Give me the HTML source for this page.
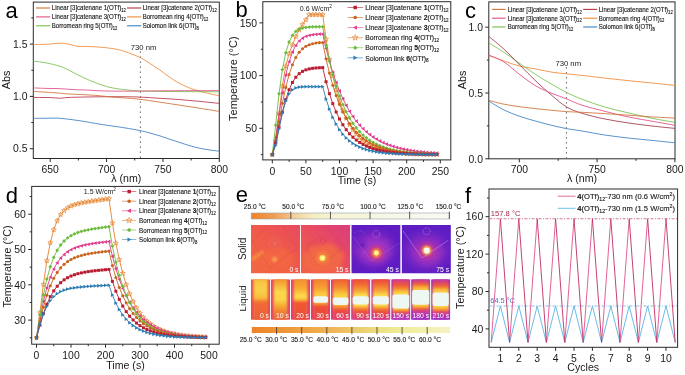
<!DOCTYPE html><html><head><meta charset="utf-8"><style>html,body{margin:0;padding:0;background:#fff;}svg{display:block;will-change:transform;} text{font-family:"Liberation Sans", sans-serif;}</style></head><body><svg width="685" height="375" viewBox="0 0 685 375"><rect x="33.30" y="2.10" width="186.00" height="156.40" fill="none" stroke="#2a2a2a" stroke-width="1"/>
<path d="M50.21,158.50V162.00M106.57,158.50V162.00M162.94,158.50V162.00M219.30,158.50V162.00M78.39,158.50V160.50M134.75,158.50V160.50M191.12,158.50V160.50M33.30,148.70H29.80M33.30,96.40H29.80M33.30,44.10H29.80M33.30,122.55H31.30M33.30,70.25H31.30M33.30,17.95H31.30" stroke="#2a2a2a" stroke-width="1" fill="none"/>
<text x="50.21" y="172.50" font-size="10.4" text-anchor="middle" fill="#1a1a1a" >650</text>
<text x="106.57" y="172.50" font-size="10.4" text-anchor="middle" fill="#1a1a1a" >700</text>
<text x="162.94" y="172.50" font-size="10.4" text-anchor="middle" fill="#1a1a1a" >750</text>
<text x="219.30" y="172.50" font-size="10.4" text-anchor="middle" fill="#1a1a1a" >800</text>
<text x="27.50" y="152.40" font-size="10.4" text-anchor="end" fill="#1a1a1a" >0.5</text>
<text x="27.50" y="100.10" font-size="10.4" text-anchor="end" fill="#1a1a1a" >1.0</text>
<text x="27.50" y="47.80" font-size="10.4" text-anchor="end" fill="#1a1a1a" >1.5</text>
<text x="126.30" y="182.40" font-size="10.6" text-anchor="middle" fill="#1a1a1a" >λ (nm)</text>
<text x="0" y="0" font-size="10.8" text-anchor="middle" fill="#1a1a1a" transform="translate(9.70,80.00) rotate(-90)">Abs</text>
<text x="5.50" y="17.50" font-size="22" text-anchor="start" fill="#000" >a</text>
<line x1="140.4" y1="51.5" x2="140.4" y2="158" stroke="#333" stroke-width="0.9" stroke-dasharray="1.3,3.7"/>
<text x="130.80" y="49.50" font-size="7.7" text-anchor="start" fill="#1a1a1a" >730 nm</text>
<path d="M33.30,44.50 C35.75,44.45 43.38,44.42 48.00,44.20 C52.62,43.98 57.33,43.15 61.00,43.20 C64.67,43.25 67.17,43.98 70.00,44.50 C72.83,45.02 74.67,45.95 78.00,46.30 C81.33,46.65 86.00,46.43 90.00,46.60 C94.00,46.77 97.83,46.90 102.00,47.30 C106.17,47.70 111.17,48.30 115.00,49.00 C118.83,49.70 122.17,50.63 125.00,51.50 C127.83,52.37 129.40,53.17 132.00,54.20 C134.60,55.23 137.60,56.15 140.60,57.70 C143.60,59.25 146.83,61.48 150.00,63.50 C153.17,65.52 156.60,67.72 159.60,69.80 C162.60,71.88 165.10,73.97 168.00,76.00 C170.90,78.03 174.00,80.25 177.00,82.00 C180.00,83.75 183.17,85.23 186.00,86.50 C188.83,87.77 190.67,88.55 194.00,89.60 C197.33,90.65 201.78,91.77 206.00,92.80 C210.22,93.83 217.08,95.30 219.30,95.80" stroke="#ee8a38" stroke-width="0.85" fill="none"/>
<path d="M33.30,61.10 C34.75,61.28 39.13,61.75 42.00,62.20 C44.87,62.65 47.03,62.95 50.50,63.80 C53.97,64.65 58.42,65.55 62.80,67.30 C67.18,69.05 72.13,72.03 76.80,74.30 C81.47,76.57 85.83,78.87 90.80,80.90 C95.77,82.93 101.63,85.12 106.60,86.50 C111.57,87.88 115.37,88.47 120.60,89.20 C125.83,89.93 132.60,90.55 138.00,90.90 C143.40,91.25 146.00,91.18 153.00,91.30 C160.00,91.42 168.95,91.52 180.00,91.60 C191.05,91.68 212.75,91.77 219.30,91.80" stroke="#74c04c" stroke-width="0.85" fill="none"/>
<path d="M33.30,87.90 C35.42,87.98 41.67,88.28 46.00,88.40 C50.33,88.52 54.97,88.42 59.30,88.60 C63.63,88.78 67.63,89.27 72.00,89.50 C76.37,89.73 80.83,89.78 85.50,90.00 C90.17,90.22 95.62,90.62 100.00,90.80 C104.38,90.98 107.63,91.03 111.80,91.10 C115.97,91.17 120.63,91.20 125.00,91.20 C129.37,91.20 133.33,91.15 138.00,91.10 C142.67,91.05 146.00,90.97 153.00,90.90 C160.00,90.83 168.95,90.75 180.00,90.70 C191.05,90.65 212.75,90.62 219.30,90.60" stroke="#e04c86" stroke-width="0.85" fill="none"/>
<path d="M33.30,97.40 C34.75,97.42 39.13,97.48 42.00,97.50 C44.87,97.52 47.62,97.38 50.50,97.50 C53.38,97.62 56.38,98.20 59.30,98.20 C62.22,98.20 63.63,97.70 68.00,97.50 C72.37,97.30 78.20,97.13 85.50,97.00 C92.80,96.87 103.05,96.70 111.80,96.70 C120.55,96.70 129.97,96.73 138.00,97.00 C146.03,97.27 153.00,97.87 160.00,98.30 C167.00,98.73 173.33,99.08 180.00,99.60 C186.67,100.12 193.45,100.77 200.00,101.40 C206.55,102.03 216.08,103.07 219.30,103.40" stroke="#b83246" stroke-width="0.85" fill="none"/>
<path d="M33.30,91.40 C36.75,91.62 48.22,92.28 54.00,92.70 C59.78,93.12 61.28,93.47 68.00,93.90 C74.72,94.33 87.00,94.78 94.30,95.30 C101.60,95.82 104.52,96.37 111.80,97.00 C119.08,97.63 129.97,98.23 138.00,99.10 C146.03,99.97 153.00,101.18 160.00,102.20 C167.00,103.22 173.33,104.18 180.00,105.20 C186.67,106.22 193.45,107.27 200.00,108.30 C206.55,109.33 216.08,110.88 219.30,111.40" stroke="#cf7038" stroke-width="0.85" fill="none"/>
<path d="M33.30,118.40 C36.08,118.37 45.38,118.20 50.00,118.20 C54.62,118.20 56.00,117.97 61.00,118.40 C66.00,118.83 73.50,119.83 80.00,120.80 C86.50,121.77 94.17,123.27 100.00,124.20 C105.83,125.13 110.83,125.78 115.00,126.40 C119.17,127.02 120.83,127.20 125.00,127.90 C129.17,128.60 135.83,129.75 140.00,130.60 C144.17,131.45 146.67,132.12 150.00,133.00 C153.33,133.88 156.67,134.85 160.00,135.90 C163.33,136.95 166.67,138.18 170.00,139.30 C173.33,140.42 176.67,141.52 180.00,142.60 C183.33,143.68 186.67,144.85 190.00,145.80 C193.33,146.75 196.67,147.60 200.00,148.30 C203.33,149.00 206.78,149.52 210.00,150.00 C213.22,150.48 217.75,151.00 219.30,151.20" stroke="#3a80c0" stroke-width="0.85" fill="none"/>
<line x1="36" y1="8.0" x2="50.2" y2="8.0" stroke="#cf7038" stroke-width="1.1"/>
<text x="0" y="0" font-size="6.6" text-anchor="start" fill="#1a1a1a" stroke="#1a1a1a" stroke-width="0.14" transform="translate(51.80,10.30) scale(0.92,1)">Linear [3]catenane 1(OTf)<tspan font-size="68%" dy="1.8">12</tspan></text>
<line x1="36" y1="16.9" x2="50.2" y2="16.9" stroke="#e04c86" stroke-width="1.1"/>
<text x="0" y="0" font-size="6.6" text-anchor="start" fill="#1a1a1a" stroke="#1a1a1a" stroke-width="0.14" transform="translate(51.80,19.20) scale(0.92,1)">Linear [3]catenane 3(OTf)<tspan font-size="68%" dy="1.8">12</tspan></text>
<line x1="36" y1="25.8" x2="50.2" y2="25.8" stroke="#74c04c" stroke-width="1.1"/>
<text x="0" y="0" font-size="6.6" text-anchor="start" fill="#1a1a1a" stroke="#1a1a1a" stroke-width="0.14" transform="translate(51.80,28.10) scale(0.92,1)">Borromean ring 5(OTf)<tspan font-size="68%" dy="1.8">12</tspan></text>
<line x1="127" y1="8.0" x2="141.2" y2="8.0" stroke="#b83246" stroke-width="1.1"/>
<text x="0" y="0" font-size="6.6" text-anchor="start" fill="#1a1a1a" stroke="#1a1a1a" stroke-width="0.14" transform="translate(142.70,10.30) scale(0.92,1)">Linear [3]catenane 2(OTf)<tspan font-size="68%" dy="1.8">12</tspan></text>
<line x1="127" y1="16.9" x2="141.2" y2="16.9" stroke="#ee8a38" stroke-width="1.1"/>
<text x="0" y="0" font-size="6.6" text-anchor="start" fill="#1a1a1a" stroke="#1a1a1a" stroke-width="0.14" transform="translate(142.70,19.20) scale(0.92,1)">Borromean ring 4(OTf)<tspan font-size="68%" dy="1.8">12</tspan></text>
<line x1="127" y1="25.8" x2="141.2" y2="25.8" stroke="#3a80c0" stroke-width="1.1"/>
<text x="0" y="0" font-size="6.6" text-anchor="start" fill="#1a1a1a" stroke="#1a1a1a" stroke-width="0.14" transform="translate(142.70,28.10) scale(0.92,1)">Solomon link 6(OTf)<tspan font-size="68%" dy="1.8">8</tspan></text>
<rect x="262.80" y="1.70" width="188.00" height="158.20" fill="none" stroke="#2a2a2a" stroke-width="1"/>
<path d="M272.30,159.90V163.40M305.90,159.90V163.40M339.50,159.90V163.40M373.10,159.90V163.40M406.70,159.90V163.40M440.30,159.90V163.40M289.10,159.90V161.90M322.70,159.90V161.90M356.30,159.90V161.90M389.90,159.90V161.90M423.50,159.90V161.90M262.80,128.30H259.30M262.80,75.60H259.30M262.80,22.90H259.30M262.80,154.65H260.80M262.80,101.95H260.80M262.80,49.25H260.80" stroke="#2a2a2a" stroke-width="1" fill="none"/>
<text x="272.30" y="174.50" font-size="10.4" text-anchor="middle" fill="#1a1a1a" >0</text>
<text x="305.90" y="174.50" font-size="10.4" text-anchor="middle" fill="#1a1a1a" >50</text>
<text x="339.50" y="174.50" font-size="10.4" text-anchor="middle" fill="#1a1a1a" >100</text>
<text x="373.10" y="174.50" font-size="10.4" text-anchor="middle" fill="#1a1a1a" >150</text>
<text x="406.70" y="174.50" font-size="10.4" text-anchor="middle" fill="#1a1a1a" >200</text>
<text x="440.30" y="174.50" font-size="10.4" text-anchor="middle" fill="#1a1a1a" >250</text>
<text x="257.00" y="132.00" font-size="10.4" text-anchor="end" fill="#1a1a1a" >50</text>
<text x="257.00" y="79.30" font-size="10.4" text-anchor="end" fill="#1a1a1a" >100</text>
<text x="257.00" y="26.60" font-size="10.4" text-anchor="end" fill="#1a1a1a" >150</text>
<text x="357.00" y="184.00" font-size="10.6" text-anchor="middle" fill="#1a1a1a" >Time (s)</text>
<text x="0" y="0" font-size="11.0" text-anchor="middle" fill="#1a1a1a" transform="translate(236.90,78.70) rotate(-90)">Temperature (°C)</text>
<text x="235.50" y="16.70" font-size="22" text-anchor="start" fill="#000" >b</text>
<text x="299.80" y="11.10" font-size="7.0" text-anchor="start" fill="#1a1a1a" >0.6 W/cm<tspan font-size="70%" dy="-3">2</tspan></text>
<path d="M272.30,154.65 L275.66,140.95 L279.02,113.54 L282.38,86.14 L285.74,66.11 L289.10,53.47 L292.46,45.03 L295.82,36.60 L299.18,29.75 L302.54,24.48 L305.90,19.74 L309.26,14.68 L312.62,14.68 L315.98,14.68 L319.34,14.68 L322.70,14.68 L326.06,39.17 L329.42,59.37 L332.78,76.04 L336.14,89.79 L339.50,101.14 L342.86,110.50 L346.22,118.22 L349.58,124.60 L352.94,129.85 L356.30,134.19 L359.66,137.77 L363.02,140.72 L366.38,143.16 L369.74,145.17 L373.10,146.83 L376.46,148.20 L379.82,149.33 L383.18,150.26 L386.54,151.03 L389.90,151.66 L393.26,152.18 L396.62,152.61 L399.98,152.97 L403.34,153.26 L406.70,153.51 L410.06,153.71 L413.42,153.87 L416.78,154.01 L420.14,154.12 L423.50,154.21 L426.86,154.29 L430.22,154.35 L433.58,154.40 L436.94,154.45" stroke="#e6822c" stroke-width="0.9" fill="none"/>
<path d="M272.30,152.05 L272.95,153.76 L274.77,153.85 L273.35,154.99 L273.83,156.75 L272.30,155.75 L270.77,156.75 L271.25,154.99 L269.83,153.85 L271.65,153.76Z" fill="none" stroke="#e6822c" stroke-width="0.7"/><path d="M275.66,138.35 L276.31,140.06 L278.13,140.14 L276.71,141.29 L277.19,143.05 L275.66,142.05 L274.13,143.05 L274.61,141.29 L273.19,140.14 L275.01,140.06Z" fill="none" stroke="#e6822c" stroke-width="0.7"/><path d="M279.02,110.94 L279.67,112.65 L281.49,112.74 L280.07,113.88 L280.55,115.65 L279.02,114.64 L277.49,115.65 L277.97,113.88 L276.55,112.74 L278.37,112.65Z" fill="none" stroke="#e6822c" stroke-width="0.7"/><path d="M282.38,83.54 L283.03,85.25 L284.85,85.34 L283.43,86.48 L283.91,88.24 L282.38,87.24 L280.85,88.24 L281.33,86.48 L279.91,85.34 L281.73,85.25Z" fill="none" stroke="#e6822c" stroke-width="0.7"/><path d="M285.74,63.51 L286.39,65.22 L288.21,65.31 L286.79,66.45 L287.27,68.22 L285.74,67.21 L284.21,68.22 L284.69,66.45 L283.27,65.31 L285.09,65.22Z" fill="none" stroke="#e6822c" stroke-width="0.7"/><path d="M289.10,50.87 L289.75,52.58 L291.57,52.66 L290.15,53.81 L290.63,55.57 L289.10,54.57 L287.57,55.57 L288.05,53.81 L286.63,52.66 L288.45,52.58Z" fill="none" stroke="#e6822c" stroke-width="0.7"/><path d="M292.46,42.43 L293.11,44.14 L294.93,44.23 L293.51,45.37 L293.99,47.14 L292.46,46.13 L290.93,47.14 L291.41,45.37 L289.99,44.23 L291.81,44.14Z" fill="none" stroke="#e6822c" stroke-width="0.7"/><path d="M295.82,34.00 L296.47,35.71 L298.29,35.80 L296.87,36.94 L297.35,38.71 L295.82,37.70 L294.29,38.71 L294.77,36.94 L293.35,35.80 L295.17,35.71Z" fill="none" stroke="#e6822c" stroke-width="0.7"/><path d="M299.18,27.15 L299.83,28.86 L301.65,28.95 L300.23,30.09 L300.71,31.85 L299.18,30.85 L297.65,31.85 L298.13,30.09 L296.71,28.95 L298.53,28.86Z" fill="none" stroke="#e6822c" stroke-width="0.7"/><path d="M302.54,21.88 L303.19,23.59 L305.01,23.68 L303.59,24.82 L304.07,26.58 L302.54,25.58 L301.01,26.58 L301.49,24.82 L300.07,23.68 L301.89,23.59Z" fill="none" stroke="#e6822c" stroke-width="0.7"/><path d="M305.90,17.14 L306.55,18.85 L308.37,18.93 L306.95,20.08 L307.43,21.84 L305.90,20.84 L304.37,21.84 L304.85,20.08 L303.43,18.93 L305.25,18.85Z" fill="none" stroke="#e6822c" stroke-width="0.7"/><path d="M309.26,12.08 L309.91,13.79 L311.73,13.88 L310.31,15.02 L310.79,16.78 L309.26,15.78 L307.73,16.78 L308.21,15.02 L306.79,13.88 L308.61,13.79Z" fill="none" stroke="#e6822c" stroke-width="0.7"/><path d="M312.62,12.08 L313.27,13.79 L315.09,13.88 L313.67,15.02 L314.15,16.78 L312.62,15.78 L311.09,16.78 L311.57,15.02 L310.15,13.88 L311.97,13.79Z" fill="none" stroke="#e6822c" stroke-width="0.7"/><path d="M315.98,12.08 L316.63,13.79 L318.45,13.88 L317.03,15.02 L317.51,16.78 L315.98,15.78 L314.45,16.78 L314.93,15.02 L313.51,13.88 L315.33,13.79Z" fill="none" stroke="#e6822c" stroke-width="0.7"/><path d="M319.34,12.08 L319.99,13.79 L321.81,13.88 L320.39,15.02 L320.87,16.78 L319.34,15.78 L317.81,16.78 L318.29,15.02 L316.87,13.88 L318.69,13.79Z" fill="none" stroke="#e6822c" stroke-width="0.7"/><path d="M322.70,12.08 L323.35,13.79 L325.17,13.88 L323.75,15.02 L324.23,16.78 L322.70,15.78 L321.17,16.78 L321.65,15.02 L320.23,13.88 L322.05,13.79Z" fill="none" stroke="#e6822c" stroke-width="0.7"/><path d="M326.06,36.57 L326.71,38.28 L328.53,38.36 L327.11,39.51 L327.59,41.27 L326.06,40.27 L324.53,41.27 L325.01,39.51 L323.59,38.36 L325.41,38.28Z" fill="none" stroke="#e6822c" stroke-width="0.7"/><path d="M329.42,56.77 L330.07,58.48 L331.89,58.57 L330.47,59.71 L330.95,61.47 L329.42,60.47 L327.89,61.47 L328.37,59.71 L326.95,58.57 L328.77,58.48Z" fill="none" stroke="#e6822c" stroke-width="0.7"/><path d="M332.78,73.44 L333.43,75.15 L335.25,75.24 L333.83,76.38 L334.31,78.14 L332.78,77.14 L331.25,78.14 L331.73,76.38 L330.31,75.24 L332.13,75.15Z" fill="none" stroke="#e6822c" stroke-width="0.7"/><path d="M336.14,87.19 L336.79,88.90 L338.61,88.99 L337.19,90.13 L337.67,91.90 L336.14,90.89 L334.61,91.90 L335.09,90.13 L333.67,88.99 L335.49,88.90Z" fill="none" stroke="#e6822c" stroke-width="0.7"/><path d="M339.50,98.54 L340.15,100.25 L341.97,100.33 L340.55,101.48 L341.03,103.24 L339.50,102.24 L337.97,103.24 L338.45,101.48 L337.03,100.33 L338.85,100.25Z" fill="none" stroke="#e6822c" stroke-width="0.7"/><path d="M342.86,107.90 L343.51,109.61 L345.33,109.70 L343.91,110.84 L344.39,112.60 L342.86,111.60 L341.33,112.60 L341.81,110.84 L340.39,109.70 L342.21,109.61Z" fill="none" stroke="#e6822c" stroke-width="0.7"/><path d="M346.22,115.62 L346.87,117.33 L348.69,117.42 L347.27,118.56 L347.75,120.33 L346.22,119.32 L344.69,120.33 L345.17,118.56 L343.75,117.42 L345.57,117.33Z" fill="none" stroke="#e6822c" stroke-width="0.7"/><path d="M349.58,122.00 L350.23,123.71 L352.05,123.79 L350.63,124.94 L351.11,126.70 L349.58,125.70 L348.05,126.70 L348.53,124.94 L347.11,123.79 L348.93,123.71Z" fill="none" stroke="#e6822c" stroke-width="0.7"/><path d="M352.94,127.25 L353.59,128.96 L355.41,129.05 L353.99,130.19 L354.47,131.96 L352.94,130.95 L351.41,131.96 L351.89,130.19 L350.47,129.05 L352.29,128.96Z" fill="none" stroke="#e6822c" stroke-width="0.7"/><path d="M356.30,131.59 L356.95,133.30 L358.77,133.39 L357.35,134.53 L357.83,136.30 L356.30,135.29 L354.77,136.30 L355.25,134.53 L353.83,133.39 L355.65,133.30Z" fill="none" stroke="#e6822c" stroke-width="0.7"/><path d="M359.66,135.17 L360.31,136.88 L362.13,136.97 L360.71,138.11 L361.19,139.87 L359.66,138.87 L358.13,139.87 L358.61,138.11 L357.19,136.97 L359.01,136.88Z" fill="none" stroke="#e6822c" stroke-width="0.7"/><path d="M363.02,138.12 L363.67,139.83 L365.49,139.92 L364.07,141.06 L364.55,142.83 L363.02,141.82 L361.49,142.83 L361.97,141.06 L360.55,139.92 L362.37,139.83Z" fill="none" stroke="#e6822c" stroke-width="0.7"/><path d="M366.38,140.56 L367.03,142.27 L368.85,142.36 L367.43,143.50 L367.91,145.26 L366.38,144.26 L364.85,145.26 L365.33,143.50 L363.91,142.36 L365.73,142.27Z" fill="none" stroke="#e6822c" stroke-width="0.7"/><path d="M369.74,142.57 L370.39,144.28 L372.21,144.37 L370.79,145.51 L371.27,147.27 L369.74,146.27 L368.21,147.27 L368.69,145.51 L367.27,144.37 L369.09,144.28Z" fill="none" stroke="#e6822c" stroke-width="0.7"/><path d="M373.10,144.23 L373.75,145.94 L375.57,146.03 L374.15,147.17 L374.63,148.93 L373.10,147.93 L371.57,148.93 L372.05,147.17 L370.63,146.03 L372.45,145.94Z" fill="none" stroke="#e6822c" stroke-width="0.7"/><path d="M376.46,145.60 L377.11,147.31 L378.93,147.39 L377.51,148.54 L377.99,150.30 L376.46,149.30 L374.93,150.30 L375.41,148.54 L373.99,147.39 L375.81,147.31Z" fill="none" stroke="#e6822c" stroke-width="0.7"/><path d="M379.82,146.73 L380.47,148.44 L382.29,148.52 L380.87,149.67 L381.35,151.43 L379.82,150.43 L378.29,151.43 L378.77,149.67 L377.35,148.52 L379.17,148.44Z" fill="none" stroke="#e6822c" stroke-width="0.7"/><path d="M383.18,147.66 L383.83,149.37 L385.65,149.45 L384.23,150.60 L384.71,152.36 L383.18,151.36 L381.65,152.36 L382.13,150.60 L380.71,149.45 L382.53,149.37Z" fill="none" stroke="#e6822c" stroke-width="0.7"/><path d="M386.54,148.43 L387.19,150.14 L389.01,150.22 L387.59,151.37 L388.07,153.13 L386.54,152.13 L385.01,153.13 L385.49,151.37 L384.07,150.22 L385.89,150.14Z" fill="none" stroke="#e6822c" stroke-width="0.7"/><path d="M389.90,149.06 L390.55,150.77 L392.37,150.86 L390.95,152.00 L391.43,153.76 L389.90,152.76 L388.37,153.76 L388.85,152.00 L387.43,150.86 L389.25,150.77Z" fill="none" stroke="#e6822c" stroke-width="0.7"/><path d="M393.26,149.58 L393.91,151.29 L395.73,151.38 L394.31,152.52 L394.79,154.29 L393.26,153.28 L391.73,154.29 L392.21,152.52 L390.79,151.38 L392.61,151.29Z" fill="none" stroke="#e6822c" stroke-width="0.7"/><path d="M396.62,150.01 L397.27,151.72 L399.09,151.81 L397.67,152.95 L398.15,154.72 L396.62,153.71 L395.09,154.72 L395.57,152.95 L394.15,151.81 L395.97,151.72Z" fill="none" stroke="#e6822c" stroke-width="0.7"/><path d="M399.98,150.37 L400.63,152.08 L402.45,152.17 L401.03,153.31 L401.51,155.07 L399.98,154.07 L398.45,155.07 L398.93,153.31 L397.51,152.17 L399.33,152.08Z" fill="none" stroke="#e6822c" stroke-width="0.7"/><path d="M403.34,150.66 L403.99,152.37 L405.81,152.46 L404.39,153.60 L404.87,155.37 L403.34,154.36 L401.81,155.37 L402.29,153.60 L400.87,152.46 L402.69,152.37Z" fill="none" stroke="#e6822c" stroke-width="0.7"/><path d="M406.70,150.91 L407.35,152.62 L409.17,152.70 L407.75,153.85 L408.23,155.61 L406.70,154.61 L405.17,155.61 L405.65,153.85 L404.23,152.70 L406.05,152.62Z" fill="none" stroke="#e6822c" stroke-width="0.7"/><path d="M410.06,151.11 L410.71,152.82 L412.53,152.90 L411.11,154.05 L411.59,155.81 L410.06,154.81 L408.53,155.81 L409.01,154.05 L407.59,152.90 L409.41,152.82Z" fill="none" stroke="#e6822c" stroke-width="0.7"/><path d="M413.42,151.27 L414.07,152.98 L415.89,153.07 L414.47,154.21 L414.95,155.98 L413.42,154.97 L411.89,155.98 L412.37,154.21 L410.95,153.07 L412.77,152.98Z" fill="none" stroke="#e6822c" stroke-width="0.7"/><path d="M416.78,151.41 L417.43,153.12 L419.25,153.20 L417.83,154.35 L418.31,156.11 L416.78,155.11 L415.25,156.11 L415.73,154.35 L414.31,153.20 L416.13,153.12Z" fill="none" stroke="#e6822c" stroke-width="0.7"/><path d="M420.14,151.52 L420.79,153.23 L422.61,153.32 L421.19,154.46 L421.67,156.22 L420.14,155.22 L418.61,156.22 L419.09,154.46 L417.67,153.32 L419.49,153.23Z" fill="none" stroke="#e6822c" stroke-width="0.7"/><path d="M423.50,151.61 L424.15,153.32 L425.97,153.41 L424.55,154.55 L425.03,156.32 L423.50,155.31 L421.97,156.32 L422.45,154.55 L421.03,153.41 L422.85,153.32Z" fill="none" stroke="#e6822c" stroke-width="0.7"/><path d="M426.86,151.69 L427.51,153.40 L429.33,153.49 L427.91,154.63 L428.39,156.39 L426.86,155.39 L425.33,156.39 L425.81,154.63 L424.39,153.49 L426.21,153.40Z" fill="none" stroke="#e6822c" stroke-width="0.7"/><path d="M430.22,151.75 L430.87,153.46 L432.69,153.55 L431.27,154.69 L431.75,156.46 L430.22,155.45 L428.69,156.46 L429.17,154.69 L427.75,153.55 L429.57,153.46Z" fill="none" stroke="#e6822c" stroke-width="0.7"/><path d="M433.58,151.80 L434.23,153.51 L436.05,153.60 L434.63,154.74 L435.11,156.51 L433.58,155.50 L432.05,156.51 L432.53,154.74 L431.11,153.60 L432.93,153.51Z" fill="none" stroke="#e6822c" stroke-width="0.7"/><path d="M436.94,151.85 L437.59,153.56 L439.41,153.64 L437.99,154.79 L438.47,156.55 L436.94,155.55 L435.41,156.55 L435.89,154.79 L434.47,153.64 L436.29,153.56Z" fill="none" stroke="#e6822c" stroke-width="0.7"/>
<path d="M272.30,154.65 L275.66,137.38 L279.02,114.25 L282.38,92.76 L285.74,75.11 L289.10,61.68 L292.46,52.01 L295.82,45.36 L299.18,40.95 L302.54,38.13 L305.90,36.37 L309.26,35.30 L312.62,34.67 L315.98,34.31 L319.34,34.11 L322.70,33.99 L326.06,48.40 L329.42,61.18 L332.78,72.43 L336.14,82.32 L339.50,91.02 L342.86,98.68 L346.22,105.42 L349.58,111.34 L352.94,116.55 L356.30,121.14 L359.66,125.17 L363.02,128.72 L366.38,131.84 L369.74,134.58 L373.10,137.00 L376.46,139.12 L379.82,140.99 L383.18,142.63 L386.54,144.08 L389.90,145.35 L393.26,146.47 L396.62,147.45 L399.98,148.32 L403.34,149.08 L406.70,149.75 L410.06,150.34 L413.42,150.86 L416.78,151.32 L420.14,151.72 L423.50,152.07 L426.86,152.38 L430.22,152.65 L433.58,152.89 L436.94,153.10" stroke="#e03c8c" stroke-width="0.9" fill="none"/>
<path d="M270.40,154.65L273.82,152.75L273.82,156.55Z" fill="#e03c8c"/><path d="M273.76,137.38L277.18,135.48L277.18,139.28Z" fill="#e03c8c"/><path d="M277.12,114.25L280.54,112.35L280.54,116.15Z" fill="#e03c8c"/><path d="M280.48,92.76L283.90,90.86L283.90,94.66Z" fill="#e03c8c"/><path d="M283.84,75.11L287.26,73.21L287.26,77.01Z" fill="#e03c8c"/><path d="M287.20,61.68L290.62,59.78L290.62,63.58Z" fill="#e03c8c"/><path d="M290.56,52.01L293.98,50.11L293.98,53.91Z" fill="#e03c8c"/><path d="M293.92,45.36L297.34,43.46L297.34,47.26Z" fill="#e03c8c"/><path d="M297.28,40.95L300.70,39.05L300.70,42.85Z" fill="#e03c8c"/><path d="M300.64,38.13L304.06,36.23L304.06,40.03Z" fill="#e03c8c"/><path d="M304.00,36.37L307.42,34.47L307.42,38.27Z" fill="#e03c8c"/><path d="M307.36,35.30L310.78,33.40L310.78,37.20Z" fill="#e03c8c"/><path d="M310.72,34.67L314.14,32.77L314.14,36.57Z" fill="#e03c8c"/><path d="M314.08,34.31L317.50,32.41L317.50,36.21Z" fill="#e03c8c"/><path d="M317.44,34.11L320.86,32.21L320.86,36.01Z" fill="#e03c8c"/><path d="M320.80,33.99L324.22,32.09L324.22,35.89Z" fill="#e03c8c"/><path d="M324.16,48.40L327.58,46.50L327.58,50.30Z" fill="#e03c8c"/><path d="M327.52,61.18L330.94,59.28L330.94,63.08Z" fill="#e03c8c"/><path d="M330.88,72.43L334.30,70.53L334.30,74.33Z" fill="#e03c8c"/><path d="M334.24,82.32L337.66,80.42L337.66,84.22Z" fill="#e03c8c"/><path d="M337.60,91.02L341.02,89.12L341.02,92.92Z" fill="#e03c8c"/><path d="M340.96,98.68L344.38,96.78L344.38,100.58Z" fill="#e03c8c"/><path d="M344.32,105.42L347.74,103.52L347.74,107.32Z" fill="#e03c8c"/><path d="M347.68,111.34L351.10,109.44L351.10,113.24Z" fill="#e03c8c"/><path d="M351.04,116.55L354.46,114.65L354.46,118.45Z" fill="#e03c8c"/><path d="M354.40,121.14L357.82,119.24L357.82,123.04Z" fill="#e03c8c"/><path d="M357.76,125.17L361.18,123.27L361.18,127.07Z" fill="#e03c8c"/><path d="M361.12,128.72L364.54,126.82L364.54,130.62Z" fill="#e03c8c"/><path d="M364.48,131.84L367.90,129.94L367.90,133.74Z" fill="#e03c8c"/><path d="M367.84,134.58L371.26,132.68L371.26,136.48Z" fill="#e03c8c"/><path d="M371.20,137.00L374.62,135.10L374.62,138.90Z" fill="#e03c8c"/><path d="M374.56,139.12L377.98,137.22L377.98,141.02Z" fill="#e03c8c"/><path d="M377.92,140.99L381.34,139.09L381.34,142.89Z" fill="#e03c8c"/><path d="M381.28,142.63L384.70,140.73L384.70,144.53Z" fill="#e03c8c"/><path d="M384.64,144.08L388.06,142.18L388.06,145.98Z" fill="#e03c8c"/><path d="M388.00,145.35L391.42,143.45L391.42,147.25Z" fill="#e03c8c"/><path d="M391.36,146.47L394.78,144.57L394.78,148.37Z" fill="#e03c8c"/><path d="M394.72,147.45L398.14,145.55L398.14,149.35Z" fill="#e03c8c"/><path d="M398.08,148.32L401.50,146.42L401.50,150.22Z" fill="#e03c8c"/><path d="M401.44,149.08L404.86,147.18L404.86,150.98Z" fill="#e03c8c"/><path d="M404.80,149.75L408.22,147.85L408.22,151.65Z" fill="#e03c8c"/><path d="M408.16,150.34L411.58,148.44L411.58,152.24Z" fill="#e03c8c"/><path d="M411.52,150.86L414.94,148.96L414.94,152.76Z" fill="#e03c8c"/><path d="M414.88,151.32L418.30,149.42L418.30,153.22Z" fill="#e03c8c"/><path d="M418.24,151.72L421.66,149.82L421.66,153.62Z" fill="#e03c8c"/><path d="M421.60,152.07L425.02,150.17L425.02,153.97Z" fill="#e03c8c"/><path d="M424.96,152.38L428.38,150.48L428.38,154.28Z" fill="#e03c8c"/><path d="M428.32,152.65L431.74,150.75L431.74,154.55Z" fill="#e03c8c"/><path d="M431.68,152.89L435.10,150.99L435.10,154.79Z" fill="#e03c8c"/><path d="M435.04,153.10L438.46,151.20L438.46,155.00Z" fill="#e03c8c"/>
<path d="M272.30,154.65 L275.66,125.13 L279.02,93.78 L282.38,69.55 L285.74,52.79 L289.10,41.98 L292.46,35.35 L295.82,31.46 L299.18,29.25 L302.54,28.03 L305.90,27.38 L309.26,27.04 L312.62,26.86 L315.98,26.78 L319.34,26.73 L322.70,26.71 L326.06,45.20 L329.42,61.04 L332.78,74.58 L336.14,86.16 L339.50,96.07 L342.86,104.54 L346.22,111.79 L349.58,117.99 L352.94,123.29 L356.30,127.83 L359.66,131.71 L363.02,135.03 L366.38,137.87 L369.74,140.29 L373.10,142.37 L376.46,144.15 L379.82,145.67 L383.18,146.97 L386.54,148.08 L389.90,149.03 L393.26,149.84 L396.62,150.54 L399.98,151.13 L403.34,151.64 L406.70,152.08 L410.06,152.45 L413.42,152.77 L416.78,153.04 L420.14,153.27 L423.50,153.47 L426.86,153.64 L430.22,153.79 L433.58,153.91 L436.94,154.02" stroke="#6cbc3c" stroke-width="0.9" fill="none"/>
<path d="M272.30,152.75L274.20,154.65L272.30,156.55L270.40,154.65Z" fill="#6cbc3c"/><path d="M275.66,123.23L277.56,125.13L275.66,127.03L273.76,125.13Z" fill="#6cbc3c"/><path d="M279.02,91.88L280.92,93.78L279.02,95.68L277.12,93.78Z" fill="#6cbc3c"/><path d="M282.38,67.65L284.28,69.55L282.38,71.45L280.48,69.55Z" fill="#6cbc3c"/><path d="M285.74,50.89L287.64,52.79L285.74,54.69L283.84,52.79Z" fill="#6cbc3c"/><path d="M289.10,40.08L291.00,41.98L289.10,43.88L287.20,41.98Z" fill="#6cbc3c"/><path d="M292.46,33.45L294.36,35.35L292.46,37.25L290.56,35.35Z" fill="#6cbc3c"/><path d="M295.82,29.56L297.72,31.46L295.82,33.36L293.92,31.46Z" fill="#6cbc3c"/><path d="M299.18,27.35L301.08,29.25L299.18,31.15L297.28,29.25Z" fill="#6cbc3c"/><path d="M302.54,26.13L304.44,28.03L302.54,29.93L300.64,28.03Z" fill="#6cbc3c"/><path d="M305.90,25.48L307.80,27.38L305.90,29.28L304.00,27.38Z" fill="#6cbc3c"/><path d="M309.26,25.14L311.16,27.04L309.26,28.94L307.36,27.04Z" fill="#6cbc3c"/><path d="M312.62,24.96L314.52,26.86L312.62,28.76L310.72,26.86Z" fill="#6cbc3c"/><path d="M315.98,24.88L317.88,26.78L315.98,28.68L314.08,26.78Z" fill="#6cbc3c"/><path d="M319.34,24.83L321.24,26.73L319.34,28.63L317.44,26.73Z" fill="#6cbc3c"/><path d="M322.70,24.81L324.60,26.71L322.70,28.61L320.80,26.71Z" fill="#6cbc3c"/><path d="M326.06,43.30L327.96,45.20L326.06,47.10L324.16,45.20Z" fill="#6cbc3c"/><path d="M329.42,59.14L331.32,61.04L329.42,62.94L327.52,61.04Z" fill="#6cbc3c"/><path d="M332.78,72.68L334.68,74.58L332.78,76.48L330.88,74.58Z" fill="#6cbc3c"/><path d="M336.14,84.26L338.04,86.16L336.14,88.06L334.24,86.16Z" fill="#6cbc3c"/><path d="M339.50,94.17L341.40,96.07L339.50,97.97L337.60,96.07Z" fill="#6cbc3c"/><path d="M342.86,102.64L344.76,104.54L342.86,106.44L340.96,104.54Z" fill="#6cbc3c"/><path d="M346.22,109.89L348.12,111.79L346.22,113.69L344.32,111.79Z" fill="#6cbc3c"/><path d="M349.58,116.09L351.48,117.99L349.58,119.89L347.68,117.99Z" fill="#6cbc3c"/><path d="M352.94,121.39L354.84,123.29L352.94,125.19L351.04,123.29Z" fill="#6cbc3c"/><path d="M356.30,125.93L358.20,127.83L356.30,129.73L354.40,127.83Z" fill="#6cbc3c"/><path d="M359.66,129.81L361.56,131.71L359.66,133.61L357.76,131.71Z" fill="#6cbc3c"/><path d="M363.02,133.13L364.92,135.03L363.02,136.93L361.12,135.03Z" fill="#6cbc3c"/><path d="M366.38,135.97L368.28,137.87L366.38,139.77L364.48,137.87Z" fill="#6cbc3c"/><path d="M369.74,138.39L371.64,140.29L369.74,142.19L367.84,140.29Z" fill="#6cbc3c"/><path d="M373.10,140.47L375.00,142.37L373.10,144.27L371.20,142.37Z" fill="#6cbc3c"/><path d="M376.46,142.25L378.36,144.15L376.46,146.05L374.56,144.15Z" fill="#6cbc3c"/><path d="M379.82,143.77L381.72,145.67L379.82,147.57L377.92,145.67Z" fill="#6cbc3c"/><path d="M383.18,145.07L385.08,146.97L383.18,148.87L381.28,146.97Z" fill="#6cbc3c"/><path d="M386.54,146.18L388.44,148.08L386.54,149.98L384.64,148.08Z" fill="#6cbc3c"/><path d="M389.90,147.13L391.80,149.03L389.90,150.93L388.00,149.03Z" fill="#6cbc3c"/><path d="M393.26,147.94L395.16,149.84L393.26,151.74L391.36,149.84Z" fill="#6cbc3c"/><path d="M396.62,148.64L398.52,150.54L396.62,152.44L394.72,150.54Z" fill="#6cbc3c"/><path d="M399.98,149.23L401.88,151.13L399.98,153.03L398.08,151.13Z" fill="#6cbc3c"/><path d="M403.34,149.74L405.24,151.64L403.34,153.54L401.44,151.64Z" fill="#6cbc3c"/><path d="M406.70,150.18L408.60,152.08L406.70,153.98L404.80,152.08Z" fill="#6cbc3c"/><path d="M410.06,150.55L411.96,152.45L410.06,154.35L408.16,152.45Z" fill="#6cbc3c"/><path d="M413.42,150.87L415.32,152.77L413.42,154.67L411.52,152.77Z" fill="#6cbc3c"/><path d="M416.78,151.14L418.68,153.04L416.78,154.94L414.88,153.04Z" fill="#6cbc3c"/><path d="M420.14,151.37L422.04,153.27L420.14,155.17L418.24,153.27Z" fill="#6cbc3c"/><path d="M423.50,151.57L425.40,153.47L423.50,155.37L421.60,153.47Z" fill="#6cbc3c"/><path d="M426.86,151.74L428.76,153.64L426.86,155.54L424.96,153.64Z" fill="#6cbc3c"/><path d="M430.22,151.89L432.12,153.79L430.22,155.69L428.32,153.79Z" fill="#6cbc3c"/><path d="M433.58,152.01L435.48,153.91L433.58,155.81L431.68,153.91Z" fill="#6cbc3c"/><path d="M436.94,152.12L438.84,154.02L436.94,155.92L435.04,154.02Z" fill="#6cbc3c"/>
<path d="M272.30,154.65 L275.66,140.87 L279.02,121.83 L282.38,103.36 L285.74,87.41 L289.10,74.55 L292.46,64.70 L295.82,57.45 L299.18,52.29 L302.54,48.72 L305.90,46.32 L309.26,44.73 L312.62,43.71 L315.98,43.07 L319.34,42.67 L322.70,42.43 L326.06,58.85 L329.42,73.12 L332.78,85.26 L336.14,95.60 L339.50,104.40 L342.86,111.88 L346.22,118.25 L349.58,123.67 L352.94,128.29 L356.30,132.21 L359.66,135.56 L363.02,138.40 L366.38,140.82 L369.74,142.88 L373.10,144.63 L376.46,146.13 L379.82,147.40 L383.18,148.48 L386.54,149.40 L389.90,150.18 L393.26,150.84 L396.62,151.41 L399.98,151.89 L403.34,152.30 L406.70,152.65 L410.06,152.95 L413.42,153.20 L416.78,153.42 L420.14,153.60 L423.50,153.76 L426.86,153.89 L430.22,154.00 L433.58,154.10 L436.94,154.18" stroke="#c8641e" stroke-width="0.9" fill="none"/>
<circle cx="272.30" cy="154.65" r="1.55" fill="#c8641e"/><circle cx="275.66" cy="140.87" r="1.55" fill="#c8641e"/><circle cx="279.02" cy="121.83" r="1.55" fill="#c8641e"/><circle cx="282.38" cy="103.36" r="1.55" fill="#c8641e"/><circle cx="285.74" cy="87.41" r="1.55" fill="#c8641e"/><circle cx="289.10" cy="74.55" r="1.55" fill="#c8641e"/><circle cx="292.46" cy="64.70" r="1.55" fill="#c8641e"/><circle cx="295.82" cy="57.45" r="1.55" fill="#c8641e"/><circle cx="299.18" cy="52.29" r="1.55" fill="#c8641e"/><circle cx="302.54" cy="48.72" r="1.55" fill="#c8641e"/><circle cx="305.90" cy="46.32" r="1.55" fill="#c8641e"/><circle cx="309.26" cy="44.73" r="1.55" fill="#c8641e"/><circle cx="312.62" cy="43.71" r="1.55" fill="#c8641e"/><circle cx="315.98" cy="43.07" r="1.55" fill="#c8641e"/><circle cx="319.34" cy="42.67" r="1.55" fill="#c8641e"/><circle cx="322.70" cy="42.43" r="1.55" fill="#c8641e"/><circle cx="326.06" cy="58.85" r="1.55" fill="#c8641e"/><circle cx="329.42" cy="73.12" r="1.55" fill="#c8641e"/><circle cx="332.78" cy="85.26" r="1.55" fill="#c8641e"/><circle cx="336.14" cy="95.60" r="1.55" fill="#c8641e"/><circle cx="339.50" cy="104.40" r="1.55" fill="#c8641e"/><circle cx="342.86" cy="111.88" r="1.55" fill="#c8641e"/><circle cx="346.22" cy="118.25" r="1.55" fill="#c8641e"/><circle cx="349.58" cy="123.67" r="1.55" fill="#c8641e"/><circle cx="352.94" cy="128.29" r="1.55" fill="#c8641e"/><circle cx="356.30" cy="132.21" r="1.55" fill="#c8641e"/><circle cx="359.66" cy="135.56" r="1.55" fill="#c8641e"/><circle cx="363.02" cy="138.40" r="1.55" fill="#c8641e"/><circle cx="366.38" cy="140.82" r="1.55" fill="#c8641e"/><circle cx="369.74" cy="142.88" r="1.55" fill="#c8641e"/><circle cx="373.10" cy="144.63" r="1.55" fill="#c8641e"/><circle cx="376.46" cy="146.13" r="1.55" fill="#c8641e"/><circle cx="379.82" cy="147.40" r="1.55" fill="#c8641e"/><circle cx="383.18" cy="148.48" r="1.55" fill="#c8641e"/><circle cx="386.54" cy="149.40" r="1.55" fill="#c8641e"/><circle cx="389.90" cy="150.18" r="1.55" fill="#c8641e"/><circle cx="393.26" cy="150.84" r="1.55" fill="#c8641e"/><circle cx="396.62" cy="151.41" r="1.55" fill="#c8641e"/><circle cx="399.98" cy="151.89" r="1.55" fill="#c8641e"/><circle cx="403.34" cy="152.30" r="1.55" fill="#c8641e"/><circle cx="406.70" cy="152.65" r="1.55" fill="#c8641e"/><circle cx="410.06" cy="152.95" r="1.55" fill="#c8641e"/><circle cx="413.42" cy="153.20" r="1.55" fill="#c8641e"/><circle cx="416.78" cy="153.42" r="1.55" fill="#c8641e"/><circle cx="420.14" cy="153.60" r="1.55" fill="#c8641e"/><circle cx="423.50" cy="153.76" r="1.55" fill="#c8641e"/><circle cx="426.86" cy="153.89" r="1.55" fill="#c8641e"/><circle cx="430.22" cy="154.00" r="1.55" fill="#c8641e"/><circle cx="433.58" cy="154.10" r="1.55" fill="#c8641e"/><circle cx="436.94" cy="154.18" r="1.55" fill="#c8641e"/>
<path d="M272.30,154.65 L275.66,142.99 L279.02,127.16 L282.38,112.16 L285.74,99.55 L289.10,89.71 L292.46,82.42 L295.82,77.25 L299.18,73.71 L302.54,71.36 L305.90,69.85 L309.26,68.90 L312.62,68.31 L315.98,67.96 L319.34,67.75 L322.70,67.63 L326.06,81.74 L329.42,93.66 L332.78,103.64 L336.14,111.98 L339.50,118.96 L342.86,124.79 L346.22,129.68 L349.58,133.76 L352.94,137.18 L356.30,140.03 L359.66,142.42 L363.02,144.42 L366.38,146.10 L369.74,147.49 L373.10,148.67 L376.46,149.64 L379.82,150.46 L383.18,151.15 L386.54,151.72 L389.90,152.20 L393.26,152.60 L396.62,152.94 L399.98,153.22 L403.34,153.45 L406.70,153.65 L410.06,153.81 L413.42,153.95 L416.78,154.06 L420.14,154.16 L423.50,154.24 L426.86,154.31 L430.22,154.36 L433.58,154.41 L436.94,154.45" stroke="#b81e32" stroke-width="0.9" fill="none"/>
<rect x="270.80" y="153.15" width="3.00" height="3.00" fill="#b81e32"/><rect x="274.16" y="141.49" width="3.00" height="3.00" fill="#b81e32"/><rect x="277.52" y="125.66" width="3.00" height="3.00" fill="#b81e32"/><rect x="280.88" y="110.66" width="3.00" height="3.00" fill="#b81e32"/><rect x="284.24" y="98.05" width="3.00" height="3.00" fill="#b81e32"/><rect x="287.60" y="88.21" width="3.00" height="3.00" fill="#b81e32"/><rect x="290.96" y="80.92" width="3.00" height="3.00" fill="#b81e32"/><rect x="294.32" y="75.75" width="3.00" height="3.00" fill="#b81e32"/><rect x="297.68" y="72.21" width="3.00" height="3.00" fill="#b81e32"/><rect x="301.04" y="69.86" width="3.00" height="3.00" fill="#b81e32"/><rect x="304.40" y="68.35" width="3.00" height="3.00" fill="#b81e32"/><rect x="307.76" y="67.40" width="3.00" height="3.00" fill="#b81e32"/><rect x="311.12" y="66.81" width="3.00" height="3.00" fill="#b81e32"/><rect x="314.48" y="66.46" width="3.00" height="3.00" fill="#b81e32"/><rect x="317.84" y="66.25" width="3.00" height="3.00" fill="#b81e32"/><rect x="321.20" y="66.13" width="3.00" height="3.00" fill="#b81e32"/><rect x="324.56" y="80.24" width="3.00" height="3.00" fill="#b81e32"/><rect x="327.92" y="92.16" width="3.00" height="3.00" fill="#b81e32"/><rect x="331.28" y="102.14" width="3.00" height="3.00" fill="#b81e32"/><rect x="334.64" y="110.48" width="3.00" height="3.00" fill="#b81e32"/><rect x="338.00" y="117.46" width="3.00" height="3.00" fill="#b81e32"/><rect x="341.36" y="123.29" width="3.00" height="3.00" fill="#b81e32"/><rect x="344.72" y="128.18" width="3.00" height="3.00" fill="#b81e32"/><rect x="348.08" y="132.26" width="3.00" height="3.00" fill="#b81e32"/><rect x="351.44" y="135.68" width="3.00" height="3.00" fill="#b81e32"/><rect x="354.80" y="138.53" width="3.00" height="3.00" fill="#b81e32"/><rect x="358.16" y="140.92" width="3.00" height="3.00" fill="#b81e32"/><rect x="361.52" y="142.92" width="3.00" height="3.00" fill="#b81e32"/><rect x="364.88" y="144.60" width="3.00" height="3.00" fill="#b81e32"/><rect x="368.24" y="145.99" width="3.00" height="3.00" fill="#b81e32"/><rect x="371.60" y="147.17" width="3.00" height="3.00" fill="#b81e32"/><rect x="374.96" y="148.14" width="3.00" height="3.00" fill="#b81e32"/><rect x="378.32" y="148.96" width="3.00" height="3.00" fill="#b81e32"/><rect x="381.68" y="149.65" width="3.00" height="3.00" fill="#b81e32"/><rect x="385.04" y="150.22" width="3.00" height="3.00" fill="#b81e32"/><rect x="388.40" y="150.70" width="3.00" height="3.00" fill="#b81e32"/><rect x="391.76" y="151.10" width="3.00" height="3.00" fill="#b81e32"/><rect x="395.12" y="151.44" width="3.00" height="3.00" fill="#b81e32"/><rect x="398.48" y="151.72" width="3.00" height="3.00" fill="#b81e32"/><rect x="401.84" y="151.95" width="3.00" height="3.00" fill="#b81e32"/><rect x="405.20" y="152.15" width="3.00" height="3.00" fill="#b81e32"/><rect x="408.56" y="152.31" width="3.00" height="3.00" fill="#b81e32"/><rect x="411.92" y="152.45" width="3.00" height="3.00" fill="#b81e32"/><rect x="415.28" y="152.56" width="3.00" height="3.00" fill="#b81e32"/><rect x="418.64" y="152.66" width="3.00" height="3.00" fill="#b81e32"/><rect x="422.00" y="152.74" width="3.00" height="3.00" fill="#b81e32"/><rect x="425.36" y="152.81" width="3.00" height="3.00" fill="#b81e32"/><rect x="428.72" y="152.86" width="3.00" height="3.00" fill="#b81e32"/><rect x="432.08" y="152.91" width="3.00" height="3.00" fill="#b81e32"/><rect x="435.44" y="152.95" width="3.00" height="3.00" fill="#b81e32"/>
<path d="M272.30,154.65 L275.66,145.41 L279.02,128.96 L282.38,113.07 L285.74,101.21 L289.10,93.80 L292.46,89.81 L295.82,87.92 L299.18,87.12 L302.54,86.82 L305.90,86.71 L309.26,86.68 L312.62,86.67 L315.98,86.67 L319.34,86.67 L322.70,86.67 L326.06,98.99 L329.42,109.08 L332.78,117.34 L336.14,124.10 L339.50,129.64 L342.86,134.17 L346.22,137.89 L349.58,140.92 L352.94,143.41 L356.30,145.45 L359.66,147.12 L363.02,148.48 L366.38,149.60 L369.74,150.52 L373.10,151.27 L376.46,151.88 L379.82,152.38 L383.18,152.79 L386.54,153.13 L389.90,153.40 L393.26,153.63 L396.62,153.82 L399.98,153.97 L403.34,154.09 L406.70,154.19 L410.06,154.27 L413.42,154.34 L416.78,154.40 L420.14,154.44 L423.50,154.48 L426.86,154.51 L430.22,154.54 L433.58,154.56 L436.94,154.57" stroke="#2e7cb4" stroke-width="0.9" fill="none"/>
<path d="M274.20,154.65L270.78,152.75L270.78,156.55Z" fill="#2e7cb4"/><path d="M277.56,145.41L274.14,143.51L274.14,147.31Z" fill="#2e7cb4"/><path d="M280.92,128.96L277.50,127.06L277.50,130.86Z" fill="#2e7cb4"/><path d="M284.28,113.07L280.86,111.17L280.86,114.97Z" fill="#2e7cb4"/><path d="M287.64,101.21L284.22,99.31L284.22,103.11Z" fill="#2e7cb4"/><path d="M291.00,93.80L287.58,91.90L287.58,95.70Z" fill="#2e7cb4"/><path d="M294.36,89.81L290.94,87.91L290.94,91.71Z" fill="#2e7cb4"/><path d="M297.72,87.92L294.30,86.02L294.30,89.82Z" fill="#2e7cb4"/><path d="M301.08,87.12L297.66,85.22L297.66,89.02Z" fill="#2e7cb4"/><path d="M304.44,86.82L301.02,84.92L301.02,88.72Z" fill="#2e7cb4"/><path d="M307.80,86.71L304.38,84.81L304.38,88.61Z" fill="#2e7cb4"/><path d="M311.16,86.68L307.74,84.78L307.74,88.58Z" fill="#2e7cb4"/><path d="M314.52,86.67L311.10,84.77L311.10,88.57Z" fill="#2e7cb4"/><path d="M317.88,86.67L314.46,84.77L314.46,88.57Z" fill="#2e7cb4"/><path d="M321.24,86.67L317.82,84.77L317.82,88.57Z" fill="#2e7cb4"/><path d="M324.60,86.67L321.18,84.77L321.18,88.57Z" fill="#2e7cb4"/><path d="M327.96,98.99L324.54,97.09L324.54,100.89Z" fill="#2e7cb4"/><path d="M331.32,109.08L327.90,107.18L327.90,110.98Z" fill="#2e7cb4"/><path d="M334.68,117.34L331.26,115.44L331.26,119.24Z" fill="#2e7cb4"/><path d="M338.04,124.10L334.62,122.20L334.62,126.00Z" fill="#2e7cb4"/><path d="M341.40,129.64L337.98,127.74L337.98,131.54Z" fill="#2e7cb4"/><path d="M344.76,134.17L341.34,132.27L341.34,136.07Z" fill="#2e7cb4"/><path d="M348.12,137.89L344.70,135.99L344.70,139.79Z" fill="#2e7cb4"/><path d="M351.48,140.92L348.06,139.02L348.06,142.82Z" fill="#2e7cb4"/><path d="M354.84,143.41L351.42,141.51L351.42,145.31Z" fill="#2e7cb4"/><path d="M358.20,145.45L354.78,143.55L354.78,147.35Z" fill="#2e7cb4"/><path d="M361.56,147.12L358.14,145.22L358.14,149.02Z" fill="#2e7cb4"/><path d="M364.92,148.48L361.50,146.58L361.50,150.38Z" fill="#2e7cb4"/><path d="M368.28,149.60L364.86,147.70L364.86,151.50Z" fill="#2e7cb4"/><path d="M371.64,150.52L368.22,148.62L368.22,152.42Z" fill="#2e7cb4"/><path d="M375.00,151.27L371.58,149.37L371.58,153.17Z" fill="#2e7cb4"/><path d="M378.36,151.88L374.94,149.98L374.94,153.78Z" fill="#2e7cb4"/><path d="M381.72,152.38L378.30,150.48L378.30,154.28Z" fill="#2e7cb4"/><path d="M385.08,152.79L381.66,150.89L381.66,154.69Z" fill="#2e7cb4"/><path d="M388.44,153.13L385.02,151.23L385.02,155.03Z" fill="#2e7cb4"/><path d="M391.80,153.40L388.38,151.50L388.38,155.30Z" fill="#2e7cb4"/><path d="M395.16,153.63L391.74,151.73L391.74,155.53Z" fill="#2e7cb4"/><path d="M398.52,153.82L395.10,151.92L395.10,155.72Z" fill="#2e7cb4"/><path d="M401.88,153.97L398.46,152.07L398.46,155.87Z" fill="#2e7cb4"/><path d="M405.24,154.09L401.82,152.19L401.82,155.99Z" fill="#2e7cb4"/><path d="M408.60,154.19L405.18,152.29L405.18,156.09Z" fill="#2e7cb4"/><path d="M411.96,154.27L408.54,152.37L408.54,156.17Z" fill="#2e7cb4"/><path d="M415.32,154.34L411.90,152.44L411.90,156.24Z" fill="#2e7cb4"/><path d="M418.68,154.40L415.26,152.50L415.26,156.30Z" fill="#2e7cb4"/><path d="M422.04,154.44L418.62,152.54L418.62,156.34Z" fill="#2e7cb4"/><path d="M425.40,154.48L421.98,152.58L421.98,156.38Z" fill="#2e7cb4"/><path d="M428.76,154.51L425.34,152.61L425.34,156.41Z" fill="#2e7cb4"/><path d="M432.12,154.54L428.70,152.64L428.70,156.44Z" fill="#2e7cb4"/><path d="M435.48,154.56L432.06,152.66L432.06,156.46Z" fill="#2e7cb4"/><path d="M438.84,154.57L435.42,152.67L435.42,156.47Z" fill="#2e7cb4"/>
<line x1="347.5" y1="7.5" x2="363" y2="7.5" stroke="#b81e32" stroke-width="0.75" opacity="0.8"/>
<rect x="353.47" y="5.78" width="3.45" height="3.45" fill="#b81e32"/>
<text x="0" y="0" font-size="7.6" text-anchor="start" fill="#1a1a1a" stroke="#1a1a1a" stroke-width="0.14" transform="translate(365.20,10.20) scale(0.9,1)">Linear [3]catenane <tspan font-weight="bold">1</tspan>(OTf)<tspan font-size="68%" dy="1.8">12</tspan></text>
<line x1="347.5" y1="17.5" x2="363" y2="17.5" stroke="#c8641e" stroke-width="0.75" opacity="0.8"/>
<circle cx="355.20" cy="17.50" r="1.78" fill="#c8641e"/>
<text x="0" y="0" font-size="7.6" text-anchor="start" fill="#1a1a1a" stroke="#1a1a1a" stroke-width="0.14" transform="translate(365.20,20.20) scale(0.9,1)">Linear [3]catenane <tspan font-weight="bold">2</tspan>(OTf)<tspan font-size="68%" dy="1.8">12</tspan></text>
<line x1="347.5" y1="27.6" x2="363" y2="27.6" stroke="#e03c8c" stroke-width="0.75" opacity="0.8"/>
<path d="M353.01,27.60L356.95,25.42L356.95,29.79Z" fill="#e03c8c"/>
<text x="0" y="0" font-size="7.6" text-anchor="start" fill="#1a1a1a" stroke="#1a1a1a" stroke-width="0.14" transform="translate(365.20,30.30) scale(0.9,1)">Linear [3]catenane <tspan font-weight="bold">3</tspan>(OTf)<tspan font-size="68%" dy="1.8">12</tspan></text>
<line x1="347.5" y1="37.7" x2="363" y2="37.7" stroke="#e6822c" stroke-width="0.75" opacity="0.8"/>
<path d="M355.20,34.71 L355.94,36.68 L358.04,36.78 L356.40,38.09 L356.96,40.12 L355.20,38.97 L353.44,40.12 L354.00,38.09 L352.36,36.78 L354.46,36.68Z" fill="none" stroke="#e6822c" stroke-width="0.7"/>
<text x="0" y="0" font-size="7.6" text-anchor="start" fill="#1a1a1a" stroke="#1a1a1a" stroke-width="0.14" transform="translate(365.20,40.40) scale(0.9,1)">Borromean ring <tspan font-weight="bold">4</tspan>(OTf)<tspan font-size="68%" dy="1.8">12</tspan></text>
<line x1="347.5" y1="47.7" x2="363" y2="47.7" stroke="#6cbc3c" stroke-width="0.75" opacity="0.8"/>
<path d="M355.20,45.52L357.38,47.70L355.20,49.89L353.01,47.70Z" fill="#6cbc3c"/>
<text x="0" y="0" font-size="7.6" text-anchor="start" fill="#1a1a1a" stroke="#1a1a1a" stroke-width="0.14" transform="translate(365.20,50.40) scale(0.9,1)">Borromean ring <tspan font-weight="bold">5</tspan>(OTf)<tspan font-size="68%" dy="1.8">12</tspan></text>
<line x1="347.5" y1="57.8" x2="363" y2="57.8" stroke="#2e7cb4" stroke-width="0.75" opacity="0.8"/>
<path d="M357.38,57.80L353.45,55.61L353.45,59.98Z" fill="#2e7cb4"/>
<text x="0" y="0" font-size="7.6" text-anchor="start" fill="#1a1a1a" stroke="#1a1a1a" stroke-width="0.14" transform="translate(365.20,60.50) scale(0.9,1)">Solomon link <tspan font-weight="bold">6</tspan>(OTf)<tspan font-size="68%" dy="1.8">8</tspan></text>
<rect x="488.80" y="1.90" width="186.20" height="156.90" fill="none" stroke="#2a2a2a" stroke-width="1"/>
<path d="M519.30,158.80V162.30M597.10,158.80V162.30M674.90,158.80V162.30M558.20,158.80V160.80M636.00,158.80V160.80M488.80,158.80H485.30M488.80,93.00H485.30M488.80,27.20H485.30M488.80,125.90H486.80M488.80,60.10H486.80" stroke="#2a2a2a" stroke-width="1" fill="none"/>
<text x="519.30" y="172.80" font-size="10.4" text-anchor="middle" fill="#1a1a1a" >700</text>
<text x="597.10" y="172.80" font-size="10.4" text-anchor="middle" fill="#1a1a1a" >750</text>
<text x="674.90" y="172.80" font-size="10.4" text-anchor="middle" fill="#1a1a1a" >800</text>
<text x="483.00" y="162.50" font-size="10.4" text-anchor="end" fill="#1a1a1a" >0.0</text>
<text x="483.00" y="96.70" font-size="10.4" text-anchor="end" fill="#1a1a1a" >0.5</text>
<text x="483.00" y="30.90" font-size="10.4" text-anchor="end" fill="#1a1a1a" >1.0</text>
<text x="582.00" y="181.60" font-size="10.6" text-anchor="middle" fill="#1a1a1a" >λ (nm)</text>
<text x="0" y="0" font-size="10.8" text-anchor="middle" fill="#1a1a1a" transform="translate(465.90,80.00) rotate(-90)">Abs</text>
<text x="465.00" y="17.90" font-size="22" text-anchor="start" fill="#000" >c</text>
<line x1="566.4" y1="67.2" x2="566.4" y2="158" stroke="#333" stroke-width="0.9" stroke-dasharray="1.3,3.7"/>
<text x="555.40" y="66.00" font-size="7.7" text-anchor="start" fill="#1a1a1a" >730 nm</text>
<path d="M488.80,55.60 C491.33,56.50 498.80,59.23 504.00,61.00 C509.20,62.77 514.67,64.87 520.00,66.20 C525.33,67.53 530.67,68.00 536.00,69.00 C541.33,70.00 546.93,71.40 552.00,72.20 C557.07,73.00 561.40,73.27 566.40,73.80 C571.40,74.33 575.73,74.70 582.00,75.40 C588.27,76.10 596.33,77.13 604.00,78.00 C611.67,78.87 620.00,79.77 628.00,80.60 C636.00,81.43 644.17,82.20 652.00,83.00 C659.83,83.80 671.17,85.00 675.00,85.40" stroke="#ee8a38" stroke-width="0.85" fill="none"/>
<path d="M488.80,42.80 C491.33,44.40 498.80,48.93 504.00,52.40 C509.20,55.87 514.67,59.87 520.00,63.60 C525.33,67.33 530.67,71.33 536.00,74.80 C541.33,78.27 546.93,81.47 552.00,84.40 C557.07,87.33 561.40,89.93 566.40,92.40 C571.40,94.87 575.73,96.80 582.00,99.20 C588.27,101.60 596.33,104.53 604.00,106.80 C611.67,109.07 620.00,110.88 628.00,112.80 C636.00,114.72 644.17,116.70 652.00,118.30 C659.83,119.90 671.17,121.72 675.00,122.40" stroke="#74c04c" stroke-width="0.85" fill="none"/>
<path d="M488.80,36.40 C491.33,38.53 498.80,44.40 504.00,49.20 C509.20,54.00 514.67,59.87 520.00,65.20 C525.33,70.53 530.67,76.13 536.00,81.20 C541.33,86.27 546.93,91.33 552.00,95.60 C557.07,99.87 561.40,103.85 566.40,106.80 C571.40,109.75 575.73,111.30 582.00,113.30 C588.27,115.30 596.33,117.20 604.00,118.80 C611.67,120.40 620.00,121.70 628.00,122.90 C636.00,124.10 644.17,125.08 652.00,126.00 C659.83,126.92 671.17,128.00 675.00,128.40" stroke="#a03848" stroke-width="0.85" fill="none"/>
<path d="M488.80,55.00 C491.33,56.17 498.80,58.70 504.00,62.00 C509.20,65.30 514.67,70.80 520.00,74.80 C525.33,78.80 530.67,82.90 536.00,86.00 C541.33,89.10 546.93,91.27 552.00,93.40 C557.07,95.53 561.40,96.83 566.40,98.80 C571.40,100.77 575.73,103.15 582.00,105.20 C588.27,107.25 596.33,109.15 604.00,111.10 C611.67,113.05 620.00,115.22 628.00,116.90 C636.00,118.58 644.17,119.80 652.00,121.20 C659.83,122.60 671.17,124.62 675.00,125.30" stroke="#e04c86" stroke-width="0.85" fill="none"/>
<path d="M488.80,100.40 C491.33,101.03 498.80,103.13 504.00,104.20 C509.20,105.27 514.67,106.05 520.00,106.80 C525.33,107.55 530.67,108.12 536.00,108.70 C541.33,109.28 546.93,109.82 552.00,110.30 C557.07,110.78 561.40,111.27 566.40,111.60 C571.40,111.93 575.73,111.97 582.00,112.30 C588.27,112.63 596.33,113.12 604.00,113.60 C611.67,114.08 620.00,114.65 628.00,115.20 C636.00,115.75 644.17,116.42 652.00,116.90 C659.83,117.38 671.17,117.90 675.00,118.10" stroke="#cf7038" stroke-width="0.85" fill="none"/>
<path d="M488.80,101.00 C491.33,102.50 498.80,107.43 504.00,110.00 C509.20,112.57 514.67,114.53 520.00,116.40 C525.33,118.27 530.67,119.70 536.00,121.20 C541.33,122.70 546.93,124.17 552.00,125.40 C557.07,126.63 561.40,127.67 566.40,128.60 C571.40,129.53 575.73,129.95 582.00,131.00 C588.27,132.05 596.33,133.73 604.00,134.90 C611.67,136.07 620.00,137.08 628.00,138.00 C636.00,138.92 644.17,139.60 652.00,140.40 C659.83,141.20 671.17,142.40 675.00,142.80" stroke="#3a80c0" stroke-width="0.85" fill="none"/>
<line x1="492.1" y1="9.4" x2="505.5" y2="9.4" stroke="#cf7038" stroke-width="1.1"/>
<text x="0" y="0" font-size="6.6" text-anchor="start" fill="#1a1a1a" stroke="#1a1a1a" stroke-width="0.14" transform="translate(507.70,11.70) scale(0.92,1)">Linear [3]catenane 1(OTf)<tspan font-size="68%" dy="1.8">12</tspan></text>
<line x1="492.1" y1="18.2" x2="505.5" y2="18.2" stroke="#e04c86" stroke-width="1.1"/>
<text x="0" y="0" font-size="6.6" text-anchor="start" fill="#1a1a1a" stroke="#1a1a1a" stroke-width="0.14" transform="translate(507.70,20.50) scale(0.92,1)">Linear [3]catenane 3(OTf)<tspan font-size="68%" dy="1.8">12</tspan></text>
<line x1="492.1" y1="27.0" x2="505.5" y2="27.0" stroke="#74c04c" stroke-width="1.1"/>
<text x="0" y="0" font-size="6.6" text-anchor="start" fill="#1a1a1a" stroke="#1a1a1a" stroke-width="0.14" transform="translate(507.70,29.30) scale(0.92,1)">Borromean ring 5(OTf)<tspan font-size="68%" dy="1.8">12</tspan></text>
<line x1="583.2" y1="9.4" x2="597.2" y2="9.4" stroke="#b83246" stroke-width="1.1"/>
<text x="0" y="0" font-size="6.6" text-anchor="start" fill="#1a1a1a" stroke="#1a1a1a" stroke-width="0.14" transform="translate(598.70,11.70) scale(0.92,1)">Linear [3]catenane 2(OTf)<tspan font-size="68%" dy="1.8">12</tspan></text>
<line x1="583.2" y1="18.2" x2="597.2" y2="18.2" stroke="#ee8a38" stroke-width="1.1"/>
<text x="0" y="0" font-size="6.6" text-anchor="start" fill="#1a1a1a" stroke="#1a1a1a" stroke-width="0.14" transform="translate(598.70,20.50) scale(0.92,1)">Borromean ring 4(OTf)<tspan font-size="68%" dy="1.8">12</tspan></text>
<line x1="583.2" y1="27.0" x2="597.2" y2="27.0" stroke="#3a80c0" stroke-width="1.1"/>
<text x="0" y="0" font-size="6.6" text-anchor="start" fill="#1a1a1a" stroke="#1a1a1a" stroke-width="0.14" transform="translate(598.70,29.30) scale(0.92,1)">Solomon link 6(OTf)<tspan font-size="68%" dy="1.8">8</tspan></text>
<rect x="31.70" y="186.40" width="187.50" height="157.80" fill="none" stroke="#2a2a2a" stroke-width="1"/>
<path d="M36.50,344.20V347.70M71.00,344.20V347.70M105.50,344.20V347.70M140.00,344.20V347.70M174.50,344.20V347.70M209.00,344.20V347.70M53.75,344.20V346.20M88.25,344.20V346.20M122.75,344.20V346.20M157.25,344.20V346.20M191.75,344.20V346.20M31.70,320.10H28.20M31.70,284.80H28.20M31.70,249.50H28.20M31.70,214.20H28.20M31.70,337.75H29.70M31.70,302.45H29.70M31.70,267.15H29.70M31.70,231.85H29.70M31.70,196.55H29.70" stroke="#2a2a2a" stroke-width="1" fill="none"/>
<text x="36.50" y="359.10" font-size="10.4" text-anchor="middle" fill="#1a1a1a" >0</text>
<text x="71.00" y="359.10" font-size="10.4" text-anchor="middle" fill="#1a1a1a" >100</text>
<text x="105.50" y="359.10" font-size="10.4" text-anchor="middle" fill="#1a1a1a" >200</text>
<text x="140.00" y="359.10" font-size="10.4" text-anchor="middle" fill="#1a1a1a" >300</text>
<text x="174.50" y="359.10" font-size="10.4" text-anchor="middle" fill="#1a1a1a" >400</text>
<text x="209.00" y="359.10" font-size="10.4" text-anchor="middle" fill="#1a1a1a" >500</text>
<text x="25.90" y="323.80" font-size="10.4" text-anchor="end" fill="#1a1a1a" >30</text>
<text x="25.90" y="288.50" font-size="10.4" text-anchor="end" fill="#1a1a1a" >40</text>
<text x="25.90" y="253.20" font-size="10.4" text-anchor="end" fill="#1a1a1a" >50</text>
<text x="25.90" y="217.90" font-size="10.4" text-anchor="end" fill="#1a1a1a" >60</text>
<text x="125.50" y="368.80" font-size="10.6" text-anchor="middle" fill="#1a1a1a" >Time (s)</text>
<text x="0" y="0" font-size="10.7" text-anchor="middle" fill="#1a1a1a" transform="translate(11.30,266.50) rotate(-90)">Temperature (°C)</text>
<text x="5.80" y="202.60" font-size="22" text-anchor="start" fill="#000" >d</text>
<text x="83.80" y="194.30" font-size="7.0" text-anchor="start" fill="#1a1a1a" >1.5 W/cm<tspan font-size="70%" dy="-3">2</tspan></text>
<path d="M36.50,337.75 L39.95,312.70 L43.40,284.48 L46.85,260.79 L50.30,242.73 L53.75,229.74 L57.20,220.73 L60.65,214.64 L64.10,210.57 L67.55,207.86 L71.00,206.01 L74.45,204.71 L77.90,203.75 L81.35,202.98 L84.80,202.33 L88.25,201.75 L91.70,201.21 L95.15,200.68 L98.60,200.17 L102.05,199.67 L105.50,199.17 L108.95,198.67 L112.40,223.00 L115.85,243.08 L119.30,259.64 L122.75,273.30 L126.20,284.58 L129.65,293.88 L133.10,301.56 L136.55,307.89 L140.00,313.11 L143.45,317.42 L146.90,320.98 L150.35,323.91 L153.80,326.33 L157.25,328.33 L160.70,329.98 L164.15,331.34 L167.60,332.46 L171.05,333.39 L174.50,334.15 L177.95,334.78 L181.40,335.30 L184.85,335.73 L188.30,336.08 L191.75,336.37 L195.20,336.61 L198.65,336.81 L202.10,336.98 L205.55,337.11" stroke="#e6822c" stroke-width="0.9" fill="none"/>
<path d="M36.50,335.15 L37.15,336.86 L38.97,336.95 L37.55,338.09 L38.03,339.85 L36.50,338.85 L34.97,339.85 L35.45,338.09 L34.03,336.95 L35.85,336.86Z" fill="none" stroke="#e6822c" stroke-width="0.7"/><path d="M39.95,310.10 L40.60,311.81 L42.42,311.89 L41.00,313.04 L41.48,314.80 L39.95,313.80 L38.42,314.80 L38.90,313.04 L37.48,311.89 L39.30,311.81Z" fill="none" stroke="#e6822c" stroke-width="0.7"/><path d="M43.40,281.88 L44.05,283.59 L45.87,283.67 L44.45,284.82 L44.93,286.58 L43.40,285.58 L41.87,286.58 L42.35,284.82 L40.93,283.67 L42.75,283.59Z" fill="none" stroke="#e6822c" stroke-width="0.7"/><path d="M46.85,258.19 L47.50,259.90 L49.32,259.98 L47.90,261.13 L48.38,262.89 L46.85,261.89 L45.32,262.89 L45.80,261.13 L44.38,259.98 L46.20,259.90Z" fill="none" stroke="#e6822c" stroke-width="0.7"/><path d="M50.30,240.13 L50.95,241.84 L52.77,241.93 L51.35,243.07 L51.83,244.84 L50.30,243.83 L48.77,244.84 L49.25,243.07 L47.83,241.93 L49.65,241.84Z" fill="none" stroke="#e6822c" stroke-width="0.7"/><path d="M53.75,227.14 L54.40,228.85 L56.22,228.93 L54.80,230.08 L55.28,231.84 L53.75,230.84 L52.22,231.84 L52.70,230.08 L51.28,228.93 L53.10,228.85Z" fill="none" stroke="#e6822c" stroke-width="0.7"/><path d="M57.20,218.13 L57.85,219.84 L59.67,219.93 L58.25,221.07 L58.73,222.83 L57.20,221.83 L55.67,222.83 L56.15,221.07 L54.73,219.93 L56.55,219.84Z" fill="none" stroke="#e6822c" stroke-width="0.7"/><path d="M60.65,212.04 L61.30,213.75 L63.12,213.84 L61.70,214.98 L62.18,216.74 L60.65,215.74 L59.12,216.74 L59.60,214.98 L58.18,213.84 L60.00,213.75Z" fill="none" stroke="#e6822c" stroke-width="0.7"/><path d="M64.10,207.97 L64.75,209.68 L66.57,209.77 L65.15,210.91 L65.63,212.68 L64.10,211.67 L62.57,212.68 L63.05,210.91 L61.63,209.77 L63.45,209.68Z" fill="none" stroke="#e6822c" stroke-width="0.7"/><path d="M67.55,205.26 L68.20,206.97 L70.02,207.05 L68.60,208.20 L69.08,209.96 L67.55,208.96 L66.02,209.96 L66.50,208.20 L65.08,207.05 L66.90,206.97Z" fill="none" stroke="#e6822c" stroke-width="0.7"/><path d="M71.00,203.41 L71.65,205.12 L73.47,205.21 L72.05,206.35 L72.53,208.12 L71.00,207.11 L69.47,208.12 L69.95,206.35 L68.53,205.21 L70.35,205.12Z" fill="none" stroke="#e6822c" stroke-width="0.7"/><path d="M74.45,202.11 L75.10,203.82 L76.92,203.91 L75.50,205.05 L75.98,206.82 L74.45,205.81 L72.92,206.82 L73.40,205.05 L71.98,203.91 L73.80,203.82Z" fill="none" stroke="#e6822c" stroke-width="0.7"/><path d="M77.90,201.15 L78.55,202.86 L80.37,202.94 L78.95,204.09 L79.43,205.85 L77.90,204.85 L76.37,205.85 L76.85,204.09 L75.43,202.94 L77.25,202.86Z" fill="none" stroke="#e6822c" stroke-width="0.7"/><path d="M81.35,200.38 L82.00,202.09 L83.82,202.18 L82.40,203.32 L82.88,205.08 L81.35,204.08 L79.82,205.08 L80.30,203.32 L78.88,202.18 L80.70,202.09Z" fill="none" stroke="#e6822c" stroke-width="0.7"/><path d="M84.80,199.73 L85.45,201.44 L87.27,201.53 L85.85,202.67 L86.33,204.43 L84.80,203.43 L83.27,204.43 L83.75,202.67 L82.33,201.53 L84.15,201.44Z" fill="none" stroke="#e6822c" stroke-width="0.7"/><path d="M88.25,199.15 L88.90,200.86 L90.72,200.94 L89.30,202.09 L89.78,203.85 L88.25,202.85 L86.72,203.85 L87.20,202.09 L85.78,200.94 L87.60,200.86Z" fill="none" stroke="#e6822c" stroke-width="0.7"/><path d="M91.70,198.61 L92.35,200.32 L94.17,200.40 L92.75,201.55 L93.23,203.31 L91.70,202.31 L90.17,203.31 L90.65,201.55 L89.23,200.40 L91.05,200.32Z" fill="none" stroke="#e6822c" stroke-width="0.7"/><path d="M95.15,198.08 L95.80,199.79 L97.62,199.88 L96.20,201.02 L96.68,202.79 L95.15,201.78 L93.62,202.79 L94.10,201.02 L92.68,199.88 L94.50,199.79Z" fill="none" stroke="#e6822c" stroke-width="0.7"/><path d="M98.60,197.57 L99.25,199.28 L101.07,199.37 L99.65,200.51 L100.13,202.28 L98.60,201.27 L97.07,202.28 L97.55,200.51 L96.13,199.37 L97.95,199.28Z" fill="none" stroke="#e6822c" stroke-width="0.7"/><path d="M102.05,197.07 L102.70,198.78 L104.52,198.87 L103.10,200.01 L103.58,201.77 L102.05,200.77 L100.52,201.77 L101.00,200.01 L99.58,198.87 L101.40,198.78Z" fill="none" stroke="#e6822c" stroke-width="0.7"/><path d="M105.50,196.57 L106.15,198.28 L107.97,198.37 L106.55,199.51 L107.03,201.27 L105.50,200.27 L103.97,201.27 L104.45,199.51 L103.03,198.37 L104.85,198.28Z" fill="none" stroke="#e6822c" stroke-width="0.7"/><path d="M108.95,196.07 L109.60,197.78 L111.42,197.87 L110.00,199.01 L110.48,200.77 L108.95,199.77 L107.42,200.77 L107.90,199.01 L106.48,197.87 L108.30,197.78Z" fill="none" stroke="#e6822c" stroke-width="0.7"/><path d="M112.40,220.40 L113.05,222.11 L114.87,222.20 L113.45,223.34 L113.93,225.11 L112.40,224.10 L110.87,225.11 L111.35,223.34 L109.93,222.20 L111.75,222.11Z" fill="none" stroke="#e6822c" stroke-width="0.7"/><path d="M115.85,240.48 L116.50,242.19 L118.32,242.27 L116.90,243.42 L117.38,245.18 L115.85,244.18 L114.32,245.18 L114.80,243.42 L113.38,242.27 L115.20,242.19Z" fill="none" stroke="#e6822c" stroke-width="0.7"/><path d="M119.30,257.04 L119.95,258.75 L121.77,258.84 L120.35,259.98 L120.83,261.74 L119.30,260.74 L117.77,261.74 L118.25,259.98 L116.83,258.84 L118.65,258.75Z" fill="none" stroke="#e6822c" stroke-width="0.7"/><path d="M122.75,270.70 L123.40,272.41 L125.22,272.50 L123.80,273.64 L124.28,275.41 L122.75,274.40 L121.22,275.41 L121.70,273.64 L120.28,272.50 L122.10,272.41Z" fill="none" stroke="#e6822c" stroke-width="0.7"/><path d="M126.20,281.98 L126.85,283.69 L128.67,283.78 L127.25,284.92 L127.73,286.68 L126.20,285.68 L124.67,286.68 L125.15,284.92 L123.73,283.78 L125.55,283.69Z" fill="none" stroke="#e6822c" stroke-width="0.7"/><path d="M129.65,291.28 L130.30,292.99 L132.12,293.08 L130.70,294.22 L131.18,295.98 L129.65,294.98 L128.12,295.98 L128.60,294.22 L127.18,293.08 L129.00,292.99Z" fill="none" stroke="#e6822c" stroke-width="0.7"/><path d="M133.10,298.96 L133.75,300.67 L135.57,300.75 L134.15,301.90 L134.63,303.66 L133.10,302.66 L131.57,303.66 L132.05,301.90 L130.63,300.75 L132.45,300.67Z" fill="none" stroke="#e6822c" stroke-width="0.7"/><path d="M136.55,305.29 L137.20,307.00 L139.02,307.08 L137.60,308.23 L138.08,309.99 L136.55,308.99 L135.02,309.99 L135.50,308.23 L134.08,307.08 L135.90,307.00Z" fill="none" stroke="#e6822c" stroke-width="0.7"/><path d="M140.00,310.51 L140.65,312.22 L142.47,312.31 L141.05,313.45 L141.53,315.22 L140.00,314.21 L138.47,315.22 L138.95,313.45 L137.53,312.31 L139.35,312.22Z" fill="none" stroke="#e6822c" stroke-width="0.7"/><path d="M143.45,314.82 L144.10,316.53 L145.92,316.62 L144.50,317.76 L144.98,319.53 L143.45,318.52 L141.92,319.53 L142.40,317.76 L140.98,316.62 L142.80,316.53Z" fill="none" stroke="#e6822c" stroke-width="0.7"/><path d="M146.90,318.38 L147.55,320.09 L149.37,320.18 L147.95,321.32 L148.43,323.08 L146.90,322.08 L145.37,323.08 L145.85,321.32 L144.43,320.18 L146.25,320.09Z" fill="none" stroke="#e6822c" stroke-width="0.7"/><path d="M150.35,321.31 L151.00,323.02 L152.82,323.11 L151.40,324.25 L151.88,326.02 L150.35,325.01 L148.82,326.02 L149.30,324.25 L147.88,323.11 L149.70,323.02Z" fill="none" stroke="#e6822c" stroke-width="0.7"/><path d="M153.80,323.73 L154.45,325.44 L156.27,325.53 L154.85,326.67 L155.33,328.44 L153.80,327.43 L152.27,328.44 L152.75,326.67 L151.33,325.53 L153.15,325.44Z" fill="none" stroke="#e6822c" stroke-width="0.7"/><path d="M157.25,325.73 L157.90,327.44 L159.72,327.53 L158.30,328.67 L158.78,330.43 L157.25,329.43 L155.72,330.43 L156.20,328.67 L154.78,327.53 L156.60,327.44Z" fill="none" stroke="#e6822c" stroke-width="0.7"/><path d="M160.70,327.38 L161.35,329.09 L163.17,329.18 L161.75,330.32 L162.23,332.08 L160.70,331.08 L159.17,332.08 L159.65,330.32 L158.23,329.18 L160.05,329.09Z" fill="none" stroke="#e6822c" stroke-width="0.7"/><path d="M164.15,328.74 L164.80,330.45 L166.62,330.53 L165.20,331.68 L165.68,333.44 L164.15,332.44 L162.62,333.44 L163.10,331.68 L161.68,330.53 L163.50,330.45Z" fill="none" stroke="#e6822c" stroke-width="0.7"/><path d="M167.60,329.86 L168.25,331.57 L170.07,331.66 L168.65,332.80 L169.13,334.56 L167.60,333.56 L166.07,334.56 L166.55,332.80 L165.13,331.66 L166.95,331.57Z" fill="none" stroke="#e6822c" stroke-width="0.7"/><path d="M171.05,330.79 L171.70,332.50 L173.52,332.58 L172.10,333.73 L172.58,335.49 L171.05,334.49 L169.52,335.49 L170.00,333.73 L168.58,332.58 L170.40,332.50Z" fill="none" stroke="#e6822c" stroke-width="0.7"/><path d="M174.50,331.55 L175.15,333.26 L176.97,333.35 L175.55,334.49 L176.03,336.25 L174.50,335.25 L172.97,336.25 L173.45,334.49 L172.03,333.35 L173.85,333.26Z" fill="none" stroke="#e6822c" stroke-width="0.7"/><path d="M177.95,332.18 L178.60,333.89 L180.42,333.98 L179.00,335.12 L179.48,336.88 L177.95,335.88 L176.42,336.88 L176.90,335.12 L175.48,333.98 L177.30,333.89Z" fill="none" stroke="#e6822c" stroke-width="0.7"/><path d="M181.40,332.70 L182.05,334.41 L183.87,334.50 L182.45,335.64 L182.93,337.40 L181.40,336.40 L179.87,337.40 L180.35,335.64 L178.93,334.50 L180.75,334.41Z" fill="none" stroke="#e6822c" stroke-width="0.7"/><path d="M184.85,333.13 L185.50,334.84 L187.32,334.92 L185.90,336.07 L186.38,337.83 L184.85,336.83 L183.32,337.83 L183.80,336.07 L182.38,334.92 L184.20,334.84Z" fill="none" stroke="#e6822c" stroke-width="0.7"/><path d="M188.30,333.48 L188.95,335.19 L190.77,335.28 L189.35,336.42 L189.83,338.18 L188.30,337.18 L186.77,338.18 L187.25,336.42 L185.83,335.28 L187.65,335.19Z" fill="none" stroke="#e6822c" stroke-width="0.7"/><path d="M191.75,333.77 L192.40,335.48 L194.22,335.57 L192.80,336.71 L193.28,338.48 L191.75,337.47 L190.22,338.48 L190.70,336.71 L189.28,335.57 L191.10,335.48Z" fill="none" stroke="#e6822c" stroke-width="0.7"/><path d="M195.20,334.01 L195.85,335.72 L197.67,335.81 L196.25,336.95 L196.73,338.72 L195.20,337.71 L193.67,338.72 L194.15,336.95 L192.73,335.81 L194.55,335.72Z" fill="none" stroke="#e6822c" stroke-width="0.7"/><path d="M198.65,334.21 L199.30,335.92 L201.12,336.01 L199.70,337.15 L200.18,338.92 L198.65,337.91 L197.12,338.92 L197.60,337.15 L196.18,336.01 L198.00,335.92Z" fill="none" stroke="#e6822c" stroke-width="0.7"/><path d="M202.10,334.38 L202.75,336.09 L204.57,336.17 L203.15,337.32 L203.63,339.08 L202.10,338.08 L200.57,339.08 L201.05,337.32 L199.63,336.17 L201.45,336.09Z" fill="none" stroke="#e6822c" stroke-width="0.7"/><path d="M205.55,334.51 L206.20,336.22 L208.02,336.31 L206.60,337.45 L207.08,339.22 L205.55,338.21 L204.02,339.22 L204.50,337.45 L203.08,336.31 L204.90,336.22Z" fill="none" stroke="#e6822c" stroke-width="0.7"/>
<path d="M36.50,337.75 L39.95,318.59 L43.40,301.54 L46.85,287.87 L50.30,277.22 L53.75,269.03 L57.20,262.80 L60.65,258.07 L64.10,254.48 L67.55,251.76 L71.00,249.67 L74.45,248.06 L77.90,246.80 L81.35,245.79 L84.80,244.97 L88.25,244.29 L91.70,243.70 L95.15,243.18 L98.60,242.71 L102.05,242.28 L105.50,241.87 L108.95,241.49 L112.40,256.26 L115.85,268.77 L119.30,279.36 L122.75,288.33 L126.20,295.91 L129.65,302.34 L133.10,307.77 L136.55,312.37 L140.00,316.27 L143.45,319.57 L146.90,322.36 L150.35,324.72 L153.80,326.72 L157.25,328.42 L160.70,329.85 L164.15,331.06 L167.60,332.09 L171.05,332.96 L174.50,333.69 L177.95,334.32 L181.40,334.84 L184.85,335.29 L188.30,335.67 L191.75,335.99 L195.20,336.26 L198.65,336.49 L202.10,336.68 L205.55,336.84" stroke="#e03c8c" stroke-width="0.9" fill="none"/>
<path d="M34.60,337.75L38.02,335.85L38.02,339.65Z" fill="#e03c8c"/><path d="M38.05,318.59L41.47,316.69L41.47,320.49Z" fill="#e03c8c"/><path d="M41.50,301.54L44.92,299.64L44.92,303.44Z" fill="#e03c8c"/><path d="M44.95,287.87L48.37,285.97L48.37,289.77Z" fill="#e03c8c"/><path d="M48.40,277.22L51.82,275.32L51.82,279.12Z" fill="#e03c8c"/><path d="M51.85,269.03L55.27,267.13L55.27,270.93Z" fill="#e03c8c"/><path d="M55.30,262.80L58.72,260.90L58.72,264.70Z" fill="#e03c8c"/><path d="M58.75,258.07L62.17,256.17L62.17,259.97Z" fill="#e03c8c"/><path d="M62.20,254.48L65.62,252.58L65.62,256.38Z" fill="#e03c8c"/><path d="M65.65,251.76L69.07,249.86L69.07,253.66Z" fill="#e03c8c"/><path d="M69.10,249.67L72.52,247.77L72.52,251.57Z" fill="#e03c8c"/><path d="M72.55,248.06L75.97,246.16L75.97,249.96Z" fill="#e03c8c"/><path d="M76.00,246.80L79.42,244.90L79.42,248.70Z" fill="#e03c8c"/><path d="M79.45,245.79L82.87,243.89L82.87,247.69Z" fill="#e03c8c"/><path d="M82.90,244.97L86.32,243.07L86.32,246.87Z" fill="#e03c8c"/><path d="M86.35,244.29L89.77,242.39L89.77,246.19Z" fill="#e03c8c"/><path d="M89.80,243.70L93.22,241.80L93.22,245.60Z" fill="#e03c8c"/><path d="M93.25,243.18L96.67,241.28L96.67,245.08Z" fill="#e03c8c"/><path d="M96.70,242.71L100.12,240.81L100.12,244.61Z" fill="#e03c8c"/><path d="M100.15,242.28L103.57,240.38L103.57,244.18Z" fill="#e03c8c"/><path d="M103.60,241.87L107.02,239.97L107.02,243.77Z" fill="#e03c8c"/><path d="M107.05,241.49L110.47,239.59L110.47,243.39Z" fill="#e03c8c"/><path d="M110.50,256.26L113.92,254.36L113.92,258.16Z" fill="#e03c8c"/><path d="M113.95,268.77L117.37,266.87L117.37,270.67Z" fill="#e03c8c"/><path d="M117.40,279.36L120.82,277.46L120.82,281.26Z" fill="#e03c8c"/><path d="M120.85,288.33L124.27,286.43L124.27,290.23Z" fill="#e03c8c"/><path d="M124.30,295.91L127.72,294.01L127.72,297.81Z" fill="#e03c8c"/><path d="M127.75,302.34L131.17,300.44L131.17,304.24Z" fill="#e03c8c"/><path d="M131.20,307.77L134.62,305.87L134.62,309.67Z" fill="#e03c8c"/><path d="M134.65,312.37L138.07,310.47L138.07,314.27Z" fill="#e03c8c"/><path d="M138.10,316.27L141.52,314.37L141.52,318.17Z" fill="#e03c8c"/><path d="M141.55,319.57L144.97,317.67L144.97,321.47Z" fill="#e03c8c"/><path d="M145.00,322.36L148.42,320.46L148.42,324.26Z" fill="#e03c8c"/><path d="M148.45,324.72L151.87,322.82L151.87,326.62Z" fill="#e03c8c"/><path d="M151.90,326.72L155.32,324.82L155.32,328.62Z" fill="#e03c8c"/><path d="M155.35,328.42L158.77,326.52L158.77,330.32Z" fill="#e03c8c"/><path d="M158.80,329.85L162.22,327.95L162.22,331.75Z" fill="#e03c8c"/><path d="M162.25,331.06L165.67,329.16L165.67,332.96Z" fill="#e03c8c"/><path d="M165.70,332.09L169.12,330.19L169.12,333.99Z" fill="#e03c8c"/><path d="M169.15,332.96L172.57,331.06L172.57,334.86Z" fill="#e03c8c"/><path d="M172.60,333.69L176.02,331.79L176.02,335.59Z" fill="#e03c8c"/><path d="M176.05,334.32L179.47,332.42L179.47,336.22Z" fill="#e03c8c"/><path d="M179.50,334.84L182.92,332.94L182.92,336.74Z" fill="#e03c8c"/><path d="M182.95,335.29L186.37,333.39L186.37,337.19Z" fill="#e03c8c"/><path d="M186.40,335.67L189.82,333.77L189.82,337.57Z" fill="#e03c8c"/><path d="M189.85,335.99L193.27,334.09L193.27,337.89Z" fill="#e03c8c"/><path d="M193.30,336.26L196.72,334.36L196.72,338.16Z" fill="#e03c8c"/><path d="M196.75,336.49L200.17,334.59L200.17,338.39Z" fill="#e03c8c"/><path d="M200.20,336.68L203.62,334.78L203.62,338.58Z" fill="#e03c8c"/><path d="M203.65,336.84L207.07,334.94L207.07,338.74Z" fill="#e03c8c"/>
<path d="M36.50,337.75 L39.95,315.05 L43.40,295.02 L46.85,279.08 L50.30,266.77 L53.75,257.39 L57.20,250.31 L60.65,244.99 L64.10,240.98 L67.55,237.96 L71.00,235.67 L74.45,233.90 L77.90,232.52 L81.35,231.43 L84.80,230.53 L88.25,229.78 L91.70,229.13 L95.15,228.56 L98.60,228.04 L102.05,227.55 L105.50,227.09 L108.95,226.65 L112.40,246.09 L115.85,262.12 L119.30,275.36 L122.75,286.27 L126.20,295.28 L129.65,302.71 L133.10,308.84 L136.55,313.90 L140.00,318.07 L143.45,321.51 L146.90,324.35 L150.35,326.70 L153.80,328.63 L157.25,330.23 L160.70,331.54 L164.15,332.63 L167.60,333.52 L171.05,334.26 L174.50,334.87 L177.95,335.38 L181.40,335.79 L184.85,336.13 L188.30,336.42 L191.75,336.65 L195.20,336.84 L198.65,337.00 L202.10,337.13 L205.55,337.24" stroke="#6cbc3c" stroke-width="0.9" fill="none"/>
<path d="M36.50,335.85L38.40,337.75L36.50,339.65L34.60,337.75Z" fill="#6cbc3c"/><path d="M39.95,313.15L41.85,315.05L39.95,316.95L38.05,315.05Z" fill="#6cbc3c"/><path d="M43.40,293.12L45.30,295.02L43.40,296.92L41.50,295.02Z" fill="#6cbc3c"/><path d="M46.85,277.18L48.75,279.08L46.85,280.98L44.95,279.08Z" fill="#6cbc3c"/><path d="M50.30,264.87L52.20,266.77L50.30,268.67L48.40,266.77Z" fill="#6cbc3c"/><path d="M53.75,255.49L55.65,257.39L53.75,259.29L51.85,257.39Z" fill="#6cbc3c"/><path d="M57.20,248.41L59.10,250.31L57.20,252.21L55.30,250.31Z" fill="#6cbc3c"/><path d="M60.65,243.09L62.55,244.99L60.65,246.89L58.75,244.99Z" fill="#6cbc3c"/><path d="M64.10,239.08L66.00,240.98L64.10,242.88L62.20,240.98Z" fill="#6cbc3c"/><path d="M67.55,236.06L69.45,237.96L67.55,239.86L65.65,237.96Z" fill="#6cbc3c"/><path d="M71.00,233.77L72.90,235.67L71.00,237.57L69.10,235.67Z" fill="#6cbc3c"/><path d="M74.45,232.00L76.35,233.90L74.45,235.80L72.55,233.90Z" fill="#6cbc3c"/><path d="M77.90,230.62L79.80,232.52L77.90,234.42L76.00,232.52Z" fill="#6cbc3c"/><path d="M81.35,229.53L83.25,231.43L81.35,233.33L79.45,231.43Z" fill="#6cbc3c"/><path d="M84.80,228.63L86.70,230.53L84.80,232.43L82.90,230.53Z" fill="#6cbc3c"/><path d="M88.25,227.88L90.15,229.78L88.25,231.68L86.35,229.78Z" fill="#6cbc3c"/><path d="M91.70,227.23L93.60,229.13L91.70,231.03L89.80,229.13Z" fill="#6cbc3c"/><path d="M95.15,226.66L97.05,228.56L95.15,230.46L93.25,228.56Z" fill="#6cbc3c"/><path d="M98.60,226.14L100.50,228.04L98.60,229.94L96.70,228.04Z" fill="#6cbc3c"/><path d="M102.05,225.65L103.95,227.55L102.05,229.45L100.15,227.55Z" fill="#6cbc3c"/><path d="M105.50,225.19L107.40,227.09L105.50,228.99L103.60,227.09Z" fill="#6cbc3c"/><path d="M108.95,224.75L110.85,226.65L108.95,228.55L107.05,226.65Z" fill="#6cbc3c"/><path d="M112.40,244.19L114.30,246.09L112.40,247.99L110.50,246.09Z" fill="#6cbc3c"/><path d="M115.85,260.22L117.75,262.12L115.85,264.02L113.95,262.12Z" fill="#6cbc3c"/><path d="M119.30,273.46L121.20,275.36L119.30,277.26L117.40,275.36Z" fill="#6cbc3c"/><path d="M122.75,284.37L124.65,286.27L122.75,288.17L120.85,286.27Z" fill="#6cbc3c"/><path d="M126.20,293.38L128.10,295.28L126.20,297.18L124.30,295.28Z" fill="#6cbc3c"/><path d="M129.65,300.81L131.55,302.71L129.65,304.61L127.75,302.71Z" fill="#6cbc3c"/><path d="M133.10,306.94L135.00,308.84L133.10,310.74L131.20,308.84Z" fill="#6cbc3c"/><path d="M136.55,312.00L138.45,313.90L136.55,315.80L134.65,313.90Z" fill="#6cbc3c"/><path d="M140.00,316.17L141.90,318.07L140.00,319.97L138.10,318.07Z" fill="#6cbc3c"/><path d="M143.45,319.61L145.35,321.51L143.45,323.41L141.55,321.51Z" fill="#6cbc3c"/><path d="M146.90,322.45L148.80,324.35L146.90,326.25L145.00,324.35Z" fill="#6cbc3c"/><path d="M150.35,324.80L152.25,326.70L150.35,328.60L148.45,326.70Z" fill="#6cbc3c"/><path d="M153.80,326.73L155.70,328.63L153.80,330.53L151.90,328.63Z" fill="#6cbc3c"/><path d="M157.25,328.33L159.15,330.23L157.25,332.13L155.35,330.23Z" fill="#6cbc3c"/><path d="M160.70,329.64L162.60,331.54L160.70,333.44L158.80,331.54Z" fill="#6cbc3c"/><path d="M164.15,330.73L166.05,332.63L164.15,334.53L162.25,332.63Z" fill="#6cbc3c"/><path d="M167.60,331.62L169.50,333.52L167.60,335.42L165.70,333.52Z" fill="#6cbc3c"/><path d="M171.05,332.36L172.95,334.26L171.05,336.16L169.15,334.26Z" fill="#6cbc3c"/><path d="M174.50,332.97L176.40,334.87L174.50,336.77L172.60,334.87Z" fill="#6cbc3c"/><path d="M177.95,333.48L179.85,335.38L177.95,337.28L176.05,335.38Z" fill="#6cbc3c"/><path d="M181.40,333.89L183.30,335.79L181.40,337.69L179.50,335.79Z" fill="#6cbc3c"/><path d="M184.85,334.23L186.75,336.13L184.85,338.03L182.95,336.13Z" fill="#6cbc3c"/><path d="M188.30,334.52L190.20,336.42L188.30,338.32L186.40,336.42Z" fill="#6cbc3c"/><path d="M191.75,334.75L193.65,336.65L191.75,338.55L189.85,336.65Z" fill="#6cbc3c"/><path d="M195.20,334.94L197.10,336.84L195.20,338.74L193.30,336.84Z" fill="#6cbc3c"/><path d="M198.65,335.10L200.55,337.00L198.65,338.90L196.75,337.00Z" fill="#6cbc3c"/><path d="M202.10,335.23L204.00,337.13L202.10,339.03L200.20,337.13Z" fill="#6cbc3c"/><path d="M205.55,335.34L207.45,337.24L205.55,339.14L203.65,337.24Z" fill="#6cbc3c"/>
<path d="M36.50,337.75 L39.95,321.73 L43.40,307.18 L46.85,295.25 L50.30,285.73 L53.75,278.25 L57.20,272.41 L60.65,267.87 L64.10,264.36 L67.55,261.63 L71.00,259.51 L74.45,257.85 L77.90,256.53 L81.35,255.47 L84.80,254.60 L88.25,253.88 L91.70,253.27 L95.15,252.74 L98.60,252.27 L102.05,251.84 L105.50,251.45 L108.95,251.08 L112.40,265.48 L115.85,277.50 L119.30,287.52 L122.75,295.87 L126.20,302.83 L129.65,308.64 L133.10,313.48 L136.55,317.51 L140.00,320.88 L143.45,323.68 L146.90,326.02 L150.35,327.97 L153.80,329.60 L157.25,330.95 L160.70,332.08 L164.15,333.02 L167.60,333.81 L171.05,334.46 L174.50,335.01 L177.95,335.47 L181.40,335.85 L184.85,336.16 L188.30,336.43 L191.75,336.65 L195.20,336.83 L198.65,336.98 L202.10,337.11 L205.55,337.22" stroke="#c8641e" stroke-width="0.9" fill="none"/>
<circle cx="36.50" cy="337.75" r="1.55" fill="#c8641e"/><circle cx="39.95" cy="321.73" r="1.55" fill="#c8641e"/><circle cx="43.40" cy="307.18" r="1.55" fill="#c8641e"/><circle cx="46.85" cy="295.25" r="1.55" fill="#c8641e"/><circle cx="50.30" cy="285.73" r="1.55" fill="#c8641e"/><circle cx="53.75" cy="278.25" r="1.55" fill="#c8641e"/><circle cx="57.20" cy="272.41" r="1.55" fill="#c8641e"/><circle cx="60.65" cy="267.87" r="1.55" fill="#c8641e"/><circle cx="64.10" cy="264.36" r="1.55" fill="#c8641e"/><circle cx="67.55" cy="261.63" r="1.55" fill="#c8641e"/><circle cx="71.00" cy="259.51" r="1.55" fill="#c8641e"/><circle cx="74.45" cy="257.85" r="1.55" fill="#c8641e"/><circle cx="77.90" cy="256.53" r="1.55" fill="#c8641e"/><circle cx="81.35" cy="255.47" r="1.55" fill="#c8641e"/><circle cx="84.80" cy="254.60" r="1.55" fill="#c8641e"/><circle cx="88.25" cy="253.88" r="1.55" fill="#c8641e"/><circle cx="91.70" cy="253.27" r="1.55" fill="#c8641e"/><circle cx="95.15" cy="252.74" r="1.55" fill="#c8641e"/><circle cx="98.60" cy="252.27" r="1.55" fill="#c8641e"/><circle cx="102.05" cy="251.84" r="1.55" fill="#c8641e"/><circle cx="105.50" cy="251.45" r="1.55" fill="#c8641e"/><circle cx="108.95" cy="251.08" r="1.55" fill="#c8641e"/><circle cx="112.40" cy="265.48" r="1.55" fill="#c8641e"/><circle cx="115.85" cy="277.50" r="1.55" fill="#c8641e"/><circle cx="119.30" cy="287.52" r="1.55" fill="#c8641e"/><circle cx="122.75" cy="295.87" r="1.55" fill="#c8641e"/><circle cx="126.20" cy="302.83" r="1.55" fill="#c8641e"/><circle cx="129.65" cy="308.64" r="1.55" fill="#c8641e"/><circle cx="133.10" cy="313.48" r="1.55" fill="#c8641e"/><circle cx="136.55" cy="317.51" r="1.55" fill="#c8641e"/><circle cx="140.00" cy="320.88" r="1.55" fill="#c8641e"/><circle cx="143.45" cy="323.68" r="1.55" fill="#c8641e"/><circle cx="146.90" cy="326.02" r="1.55" fill="#c8641e"/><circle cx="150.35" cy="327.97" r="1.55" fill="#c8641e"/><circle cx="153.80" cy="329.60" r="1.55" fill="#c8641e"/><circle cx="157.25" cy="330.95" r="1.55" fill="#c8641e"/><circle cx="160.70" cy="332.08" r="1.55" fill="#c8641e"/><circle cx="164.15" cy="333.02" r="1.55" fill="#c8641e"/><circle cx="167.60" cy="333.81" r="1.55" fill="#c8641e"/><circle cx="171.05" cy="334.46" r="1.55" fill="#c8641e"/><circle cx="174.50" cy="335.01" r="1.55" fill="#c8641e"/><circle cx="177.95" cy="335.47" r="1.55" fill="#c8641e"/><circle cx="181.40" cy="335.85" r="1.55" fill="#c8641e"/><circle cx="184.85" cy="336.16" r="1.55" fill="#c8641e"/><circle cx="188.30" cy="336.43" r="1.55" fill="#c8641e"/><circle cx="191.75" cy="336.65" r="1.55" fill="#c8641e"/><circle cx="195.20" cy="336.83" r="1.55" fill="#c8641e"/><circle cx="198.65" cy="336.98" r="1.55" fill="#c8641e"/><circle cx="202.10" cy="337.11" r="1.55" fill="#c8641e"/><circle cx="205.55" cy="337.22" r="1.55" fill="#c8641e"/>
<path d="M36.50,337.75 L39.95,325.12 L43.40,313.64 L46.85,304.24 L50.30,296.73 L53.75,290.83 L57.20,286.22 L60.65,282.65 L64.10,279.87 L67.55,277.72 L71.00,276.05 L74.45,274.74 L77.90,273.70 L81.35,272.86 L84.80,272.18 L88.25,271.61 L91.70,271.13 L95.15,270.71 L98.60,270.34 L102.05,270.00 L105.50,269.69 L108.95,269.40 L112.40,281.36 L115.85,291.22 L119.30,299.36 L122.75,306.08 L126.20,311.62 L129.65,316.19 L133.10,319.96 L136.55,323.07 L140.00,325.64 L143.45,327.76 L146.90,329.51 L150.35,330.95 L153.80,332.14 L157.25,333.12 L160.70,333.93 L164.15,334.60 L167.60,335.15 L171.05,335.60 L174.50,335.98 L177.95,336.29 L181.40,336.55 L184.85,336.76 L188.30,336.93 L191.75,337.07 L195.20,337.19 L198.65,337.29 L202.10,337.37 L205.55,337.44" stroke="#b81e32" stroke-width="0.9" fill="none"/>
<rect x="35.00" y="336.25" width="3.00" height="3.00" fill="#b81e32"/><rect x="38.45" y="323.62" width="3.00" height="3.00" fill="#b81e32"/><rect x="41.90" y="312.14" width="3.00" height="3.00" fill="#b81e32"/><rect x="45.35" y="302.74" width="3.00" height="3.00" fill="#b81e32"/><rect x="48.80" y="295.23" width="3.00" height="3.00" fill="#b81e32"/><rect x="52.25" y="289.33" width="3.00" height="3.00" fill="#b81e32"/><rect x="55.70" y="284.72" width="3.00" height="3.00" fill="#b81e32"/><rect x="59.15" y="281.15" width="3.00" height="3.00" fill="#b81e32"/><rect x="62.60" y="278.37" width="3.00" height="3.00" fill="#b81e32"/><rect x="66.05" y="276.22" width="3.00" height="3.00" fill="#b81e32"/><rect x="69.50" y="274.55" width="3.00" height="3.00" fill="#b81e32"/><rect x="72.95" y="273.24" width="3.00" height="3.00" fill="#b81e32"/><rect x="76.40" y="272.20" width="3.00" height="3.00" fill="#b81e32"/><rect x="79.85" y="271.36" width="3.00" height="3.00" fill="#b81e32"/><rect x="83.30" y="270.68" width="3.00" height="3.00" fill="#b81e32"/><rect x="86.75" y="270.11" width="3.00" height="3.00" fill="#b81e32"/><rect x="90.20" y="269.63" width="3.00" height="3.00" fill="#b81e32"/><rect x="93.65" y="269.21" width="3.00" height="3.00" fill="#b81e32"/><rect x="97.10" y="268.84" width="3.00" height="3.00" fill="#b81e32"/><rect x="100.55" y="268.50" width="3.00" height="3.00" fill="#b81e32"/><rect x="104.00" y="268.19" width="3.00" height="3.00" fill="#b81e32"/><rect x="107.45" y="267.90" width="3.00" height="3.00" fill="#b81e32"/><rect x="110.90" y="279.86" width="3.00" height="3.00" fill="#b81e32"/><rect x="114.35" y="289.72" width="3.00" height="3.00" fill="#b81e32"/><rect x="117.80" y="297.86" width="3.00" height="3.00" fill="#b81e32"/><rect x="121.25" y="304.58" width="3.00" height="3.00" fill="#b81e32"/><rect x="124.70" y="310.12" width="3.00" height="3.00" fill="#b81e32"/><rect x="128.15" y="314.69" width="3.00" height="3.00" fill="#b81e32"/><rect x="131.60" y="318.46" width="3.00" height="3.00" fill="#b81e32"/><rect x="135.05" y="321.57" width="3.00" height="3.00" fill="#b81e32"/><rect x="138.50" y="324.14" width="3.00" height="3.00" fill="#b81e32"/><rect x="141.95" y="326.26" width="3.00" height="3.00" fill="#b81e32"/><rect x="145.40" y="328.01" width="3.00" height="3.00" fill="#b81e32"/><rect x="148.85" y="329.45" width="3.00" height="3.00" fill="#b81e32"/><rect x="152.30" y="330.64" width="3.00" height="3.00" fill="#b81e32"/><rect x="155.75" y="331.62" width="3.00" height="3.00" fill="#b81e32"/><rect x="159.20" y="332.43" width="3.00" height="3.00" fill="#b81e32"/><rect x="162.65" y="333.10" width="3.00" height="3.00" fill="#b81e32"/><rect x="166.10" y="333.65" width="3.00" height="3.00" fill="#b81e32"/><rect x="169.55" y="334.10" width="3.00" height="3.00" fill="#b81e32"/><rect x="173.00" y="334.48" width="3.00" height="3.00" fill="#b81e32"/><rect x="176.45" y="334.79" width="3.00" height="3.00" fill="#b81e32"/><rect x="179.90" y="335.05" width="3.00" height="3.00" fill="#b81e32"/><rect x="183.35" y="335.26" width="3.00" height="3.00" fill="#b81e32"/><rect x="186.80" y="335.43" width="3.00" height="3.00" fill="#b81e32"/><rect x="190.25" y="335.57" width="3.00" height="3.00" fill="#b81e32"/><rect x="193.70" y="335.69" width="3.00" height="3.00" fill="#b81e32"/><rect x="197.15" y="335.79" width="3.00" height="3.00" fill="#b81e32"/><rect x="200.60" y="335.87" width="3.00" height="3.00" fill="#b81e32"/><rect x="204.05" y="335.94" width="3.00" height="3.00" fill="#b81e32"/>
<path d="M36.50,337.75 L39.95,325.00 L43.40,314.37 L46.85,306.43 L50.30,300.68 L53.75,296.58 L57.20,293.67 L60.65,291.62 L64.10,290.16 L67.55,289.12 L71.00,288.35 L74.45,287.78 L77.90,287.34 L81.35,286.98 L84.80,286.68 L88.25,286.42 L91.70,286.18 L95.15,285.96 L98.60,285.75 L102.05,285.55 L105.50,285.36 L108.95,285.16 L112.40,295.05 L115.85,303.08 L119.30,309.60 L122.75,314.90 L126.20,319.19 L129.65,322.68 L133.10,325.52 L136.55,327.82 L140.00,329.69 L143.45,331.20 L146.90,332.43 L150.35,333.43 L153.80,334.25 L157.25,334.90 L160.70,335.44 L164.15,335.87 L167.60,336.23 L171.05,336.51 L174.50,336.75 L177.95,336.93 L181.40,337.09 L184.85,337.21 L188.30,337.31 L191.75,337.40 L195.20,337.46 L198.65,337.52 L202.10,337.56 L205.55,337.60" stroke="#2e7cb4" stroke-width="0.9" fill="none"/>
<path d="M38.40,337.75L34.98,335.85L34.98,339.65Z" fill="#2e7cb4"/><path d="M41.85,325.00L38.43,323.10L38.43,326.90Z" fill="#2e7cb4"/><path d="M45.30,314.37L41.88,312.47L41.88,316.27Z" fill="#2e7cb4"/><path d="M48.75,306.43L45.33,304.53L45.33,308.33Z" fill="#2e7cb4"/><path d="M52.20,300.68L48.78,298.78L48.78,302.58Z" fill="#2e7cb4"/><path d="M55.65,296.58L52.23,294.68L52.23,298.48Z" fill="#2e7cb4"/><path d="M59.10,293.67L55.68,291.77L55.68,295.57Z" fill="#2e7cb4"/><path d="M62.55,291.62L59.13,289.72L59.13,293.52Z" fill="#2e7cb4"/><path d="M66.00,290.16L62.58,288.26L62.58,292.06Z" fill="#2e7cb4"/><path d="M69.45,289.12L66.03,287.22L66.03,291.02Z" fill="#2e7cb4"/><path d="M72.90,288.35L69.48,286.45L69.48,290.25Z" fill="#2e7cb4"/><path d="M76.35,287.78L72.93,285.88L72.93,289.68Z" fill="#2e7cb4"/><path d="M79.80,287.34L76.38,285.44L76.38,289.24Z" fill="#2e7cb4"/><path d="M83.25,286.98L79.83,285.08L79.83,288.88Z" fill="#2e7cb4"/><path d="M86.70,286.68L83.28,284.78L83.28,288.58Z" fill="#2e7cb4"/><path d="M90.15,286.42L86.73,284.52L86.73,288.32Z" fill="#2e7cb4"/><path d="M93.60,286.18L90.18,284.28L90.18,288.08Z" fill="#2e7cb4"/><path d="M97.05,285.96L93.63,284.06L93.63,287.86Z" fill="#2e7cb4"/><path d="M100.50,285.75L97.08,283.85L97.08,287.65Z" fill="#2e7cb4"/><path d="M103.95,285.55L100.53,283.65L100.53,287.45Z" fill="#2e7cb4"/><path d="M107.40,285.36L103.98,283.46L103.98,287.26Z" fill="#2e7cb4"/><path d="M110.85,285.16L107.43,283.26L107.43,287.06Z" fill="#2e7cb4"/><path d="M114.30,295.05L110.88,293.15L110.88,296.95Z" fill="#2e7cb4"/><path d="M117.75,303.08L114.33,301.18L114.33,304.98Z" fill="#2e7cb4"/><path d="M121.20,309.60L117.78,307.70L117.78,311.50Z" fill="#2e7cb4"/><path d="M124.65,314.90L121.23,313.00L121.23,316.80Z" fill="#2e7cb4"/><path d="M128.10,319.19L124.68,317.29L124.68,321.09Z" fill="#2e7cb4"/><path d="M131.55,322.68L128.13,320.78L128.13,324.58Z" fill="#2e7cb4"/><path d="M135.00,325.52L131.58,323.62L131.58,327.42Z" fill="#2e7cb4"/><path d="M138.45,327.82L135.03,325.92L135.03,329.72Z" fill="#2e7cb4"/><path d="M141.90,329.69L138.48,327.79L138.48,331.59Z" fill="#2e7cb4"/><path d="M145.35,331.20L141.93,329.30L141.93,333.10Z" fill="#2e7cb4"/><path d="M148.80,332.43L145.38,330.53L145.38,334.33Z" fill="#2e7cb4"/><path d="M152.25,333.43L148.83,331.53L148.83,335.33Z" fill="#2e7cb4"/><path d="M155.70,334.25L152.28,332.35L152.28,336.15Z" fill="#2e7cb4"/><path d="M159.15,334.90L155.73,333.00L155.73,336.80Z" fill="#2e7cb4"/><path d="M162.60,335.44L159.18,333.54L159.18,337.34Z" fill="#2e7cb4"/><path d="M166.05,335.87L162.63,333.97L162.63,337.77Z" fill="#2e7cb4"/><path d="M169.50,336.23L166.08,334.33L166.08,338.13Z" fill="#2e7cb4"/><path d="M172.95,336.51L169.53,334.61L169.53,338.41Z" fill="#2e7cb4"/><path d="M176.40,336.75L172.98,334.85L172.98,338.65Z" fill="#2e7cb4"/><path d="M179.85,336.93L176.43,335.03L176.43,338.83Z" fill="#2e7cb4"/><path d="M183.30,337.09L179.88,335.19L179.88,338.99Z" fill="#2e7cb4"/><path d="M186.75,337.21L183.33,335.31L183.33,339.11Z" fill="#2e7cb4"/><path d="M190.20,337.31L186.78,335.41L186.78,339.21Z" fill="#2e7cb4"/><path d="M193.65,337.40L190.23,335.50L190.23,339.30Z" fill="#2e7cb4"/><path d="M197.10,337.46L193.68,335.56L193.68,339.36Z" fill="#2e7cb4"/><path d="M200.55,337.52L197.13,335.62L197.13,339.42Z" fill="#2e7cb4"/><path d="M204.00,337.56L200.58,335.66L200.58,339.46Z" fill="#2e7cb4"/><path d="M207.45,337.60L204.03,335.70L204.03,339.50Z" fill="#2e7cb4"/>
<line x1="122" y1="191.6" x2="136.3" y2="191.6" stroke="#b81e32" stroke-width="0.75" opacity="0.8"/>
<rect x="127.47" y="189.88" width="3.45" height="3.45" fill="#b81e32"/>
<text x="0" y="0" font-size="7.2" text-anchor="start" fill="#1a1a1a" stroke="#1a1a1a" stroke-width="0.14" transform="translate(139.00,194.10) scale(0.875,1)">Linear [3]catenane <tspan font-weight="bold">1</tspan>(OTf)<tspan font-size="68%" dy="1.8">12</tspan></text>
<line x1="122" y1="201.2" x2="136.3" y2="201.2" stroke="#c8641e" stroke-width="0.75" opacity="0.8"/>
<circle cx="129.20" cy="201.20" r="1.78" fill="#c8641e"/>
<text x="0" y="0" font-size="7.2" text-anchor="start" fill="#1a1a1a" stroke="#1a1a1a" stroke-width="0.14" transform="translate(139.00,203.70) scale(0.875,1)">Linear [3]catenane <tspan font-weight="bold">2</tspan>(OTf)<tspan font-size="68%" dy="1.8">12</tspan></text>
<line x1="122" y1="210.8" x2="136.3" y2="210.8" stroke="#e03c8c" stroke-width="0.75" opacity="0.8"/>
<path d="M127.01,210.80L130.95,208.62L130.95,212.99Z" fill="#e03c8c"/>
<text x="0" y="0" font-size="7.2" text-anchor="start" fill="#1a1a1a" stroke="#1a1a1a" stroke-width="0.14" transform="translate(139.00,213.30) scale(0.875,1)">Linear [3]catenane <tspan font-weight="bold">3</tspan>(OTf)<tspan font-size="68%" dy="1.8">12</tspan></text>
<line x1="122" y1="220.4" x2="136.3" y2="220.4" stroke="#e6822c" stroke-width="0.75" opacity="0.8"/>
<path d="M129.20,217.41 L129.94,219.38 L132.04,219.48 L130.40,220.79 L130.96,222.82 L129.20,221.66 L127.44,222.82 L128.00,220.79 L126.36,219.48 L128.46,219.38Z" fill="none" stroke="#e6822c" stroke-width="0.7"/>
<text x="0" y="0" font-size="7.2" text-anchor="start" fill="#1a1a1a" stroke="#1a1a1a" stroke-width="0.14" transform="translate(139.00,222.90) scale(0.875,1)">Borromean ring <tspan font-weight="bold">4</tspan>(OTf)<tspan font-size="68%" dy="1.8">12</tspan></text>
<line x1="122" y1="230.0" x2="136.3" y2="230.0" stroke="#6cbc3c" stroke-width="0.75" opacity="0.8"/>
<path d="M129.20,227.81L131.38,230.00L129.20,232.19L127.01,230.00Z" fill="#6cbc3c"/>
<text x="0" y="0" font-size="7.2" text-anchor="start" fill="#1a1a1a" stroke="#1a1a1a" stroke-width="0.14" transform="translate(139.00,232.50) scale(0.875,1)">Borromean ring <tspan font-weight="bold">5</tspan>(OTf)<tspan font-size="68%" dy="1.8">12</tspan></text>
<line x1="122" y1="239.6" x2="136.3" y2="239.6" stroke="#2e7cb4" stroke-width="0.75" opacity="0.8"/>
<path d="M131.38,239.60L127.45,237.41L127.45,241.78Z" fill="#2e7cb4"/>
<text x="0" y="0" font-size="7.2" text-anchor="start" fill="#1a1a1a" stroke="#1a1a1a" stroke-width="0.14" transform="translate(139.00,242.10) scale(0.875,1)">Solomon link <tspan font-weight="bold">6</tspan>(OTf)<tspan font-size="68%" dy="1.8">8</tspan></text>
<text x="235.70" y="202.20" font-size="22" text-anchor="start" fill="#000" >e</text>
<defs><linearGradient id="cbt" x1="0" x2="1" y1="0" y2="0"><stop offset="0" stop-color="#ef8228"/><stop offset="0.1" stop-color="#f09a4a"/><stop offset="0.19" stop-color="#f2bc80"/><stop offset="0.205" stop-color="#f3cc98"/><stop offset="0.3" stop-color="#f5eac0"/><stop offset="0.4" stop-color="#f6f4d4"/><stop offset="0.6" stop-color="#f6f6e0"/><stop offset="0.8" stop-color="#f8f8ec"/><stop offset="1" stop-color="#fafaf4"/></linearGradient><linearGradient id="cbb" x1="0" x2="1" y1="0" y2="0"><stop offset="0" stop-color="#ee8426"/><stop offset="0.2" stop-color="#f09a3c"/><stop offset="0.4" stop-color="#efb456"/><stop offset="0.55" stop-color="#eccf70"/><stop offset="0.7" stop-color="#eee88e"/><stop offset="0.85" stop-color="#f2f0a8"/><stop offset="1" stop-color="#f4f2c4"/></linearGradient><filter id="bl1" x="-50%" y="-50%" width="200%" height="200%"><feGaussianBlur stdDeviation="1"/></filter><filter id="bl2" x="-50%" y="-50%" width="200%" height="200%"><feGaussianBlur stdDeviation="2"/></filter><filter id="bl3" x="-50%" y="-50%" width="200%" height="200%"><feGaussianBlur stdDeviation="3.5"/></filter><filter id="bl5" x="-50%" y="-50%" width="200%" height="200%"><feGaussianBlur stdDeviation="5"/></filter></defs>
<rect x="251.2" y="213" width="198.2" height="6" fill="url(#cbt)" stroke="#9aa2aa" stroke-width="0.6"/>
<path d="M290.82,211.6V219M330.44,211.6V219M370.06,211.6V219M409.68,211.6V219M449.30,211.6V219" stroke="#333" stroke-width="0.8"/>
<text x="254.80" y="209.00" font-size="6.6" text-anchor="middle" fill="#1a1a1a" stroke="#1a1a1a" stroke-width="0.12">25.0 °C</text>
<text x="293.30" y="209.00" font-size="6.6" text-anchor="middle" fill="#1a1a1a" stroke="#1a1a1a" stroke-width="0.12">50.0 °C</text>
<text x="332.90" y="209.00" font-size="6.6" text-anchor="middle" fill="#1a1a1a" stroke="#1a1a1a" stroke-width="0.12">75.0 °C</text>
<text x="373.00" y="209.00" font-size="6.6" text-anchor="middle" fill="#1a1a1a" stroke="#1a1a1a" stroke-width="0.12">100.0 °C</text>
<text x="410.30" y="209.00" font-size="6.6" text-anchor="middle" fill="#1a1a1a" stroke="#1a1a1a" stroke-width="0.12">125.0 °C</text>
<text x="448.50" y="209.00" font-size="6.6" text-anchor="middle" fill="#1a1a1a" stroke="#1a1a1a" stroke-width="0.12">150.0 °C</text>
<rect x="251.8" y="327" width="198.4" height="6" fill="url(#cbb)"/>
<path d="M276.60,327V334.3M301.70,327V334.3M326.80,327V334.3M351.90,327V334.3M377.00,327V334.3M402.10,327V334.3M427.20,327V334.3" stroke="#333" stroke-width="0.8"/>
<text x="250.70" y="341.60" font-size="6.6" text-anchor="middle" fill="#1a1a1a" stroke="#1a1a1a" stroke-width="0.12">25.0 °C</text>
<text x="276.31" y="341.60" font-size="6.6" text-anchor="middle" fill="#1a1a1a" stroke="#1a1a1a" stroke-width="0.12">30.0 °C</text>
<text x="301.92" y="341.60" font-size="6.6" text-anchor="middle" fill="#1a1a1a" stroke="#1a1a1a" stroke-width="0.12">35.0 °C</text>
<text x="327.53" y="341.60" font-size="6.6" text-anchor="middle" fill="#1a1a1a" stroke="#1a1a1a" stroke-width="0.12">40.0 °C</text>
<text x="353.14" y="341.60" font-size="6.6" text-anchor="middle" fill="#1a1a1a" stroke="#1a1a1a" stroke-width="0.12">45.0 °C</text>
<text x="378.75" y="341.60" font-size="6.6" text-anchor="middle" fill="#1a1a1a" stroke="#1a1a1a" stroke-width="0.12">50.0 °C</text>
<text x="404.36" y="341.60" font-size="6.6" text-anchor="middle" fill="#1a1a1a" stroke="#1a1a1a" stroke-width="0.12">55.0 °C</text>
<text x="429.97" y="341.60" font-size="6.6" text-anchor="middle" fill="#1a1a1a" stroke="#1a1a1a" stroke-width="0.12">60.0 °C</text>
<text x="0" y="0" font-size="10.0" text-anchor="middle" fill="#1a1a1a" transform="translate(246.40,248.80) rotate(-90)">Solid</text>
<text x="0" y="0" font-size="9.8" text-anchor="middle" fill="#1a1a1a" transform="translate(246.20,298.40) rotate(-90)">Liquid</text>
<defs><clipPath id="cs0"><rect x="251.0" y="225.0" width="49.3" height="48.5"/></clipPath><clipPath id="cs1"><rect x="301.0" y="225.0" width="49.3" height="48.5"/></clipPath><clipPath id="cs2"><rect x="351.3" y="225.0" width="49.3" height="48.5"/></clipPath><clipPath id="cs3"><rect x="401.6" y="225.0" width="49.3" height="48.5"/></clipPath></defs>
<defs><linearGradient id="sg1" x1="0" y1="1" x2="1" y2="0"><stop offset="0" stop-color="#f26a44"/><stop offset="0.55" stop-color="#ef584c"/><stop offset="1" stop-color="#e84a60"/></linearGradient><linearGradient id="sg2" x1="0" y1="1" x2="1" y2="0"><stop offset="0" stop-color="#f06248"/><stop offset="0.5" stop-color="#ea4e5c"/><stop offset="1" stop-color="#da3c7e"/></linearGradient></defs>
<g clip-path="url(#cs0)"><rect x="251.0" y="225.0" width="49.3" height="48.5" fill="url(#sg1)"/><path d="M253.0,259.0 L263.0,251.0 L283.0,247.0 L295.0,256.0 L289.0,271.0 L267.0,272.0 L257.0,265.0 Z" fill="#f36840" filter="url(#bl2)" opacity="0.75"/><path d="M251.0,258.0 L262.0,250.0 L264.0,253.0 L253.0,261.0 Z" fill="#f68a40" filter="url(#bl1)"/><circle cx="275.0" cy="243.5" r="6" fill="#f26a5a" filter="url(#bl2)" opacity="0.7"/><circle cx="274.7" cy="259.3" r="2.6" fill="#f7a050" filter="url(#bl1)"/><path d="M252.2,241.3 L270.0,267.8 L297.0,248.0 M252.2,241.3 L265.0,229.0 M283.0,226.0 L297.0,248.0" stroke="#a02a3c" stroke-width="0.4" fill="none" opacity="0.35"/><circle cx="275.0" cy="243.5" r="3.4" stroke="#a02a3c" stroke-width="0.5" fill="none" stroke-dasharray="1,0.8" opacity="0.75"/><text x="298.5" y="271.5" font-size="6.8" fill="#fff" text-anchor="end">0 s</text></g>
<g clip-path="url(#cs1)"><rect x="301.0" y="225.0" width="49.3" height="48.5" fill="url(#sg2)"/><path d="M301.0,257.0 L311.0,247.0 L331.0,243.0 L345.0,254.0 L339.0,272.0 L313.0,273.0 L303.0,267.0 Z" fill="#f26a44" filter="url(#bl2)" opacity="0.85"/><circle cx="322.5" cy="258.0" r="5.5" fill="#f7903a" filter="url(#bl2)"/><circle cx="322.5" cy="258.0" r="3.0" fill="#fde860" filter="url(#bl06)"/><circle cx="322.5" cy="258.0" r="1.4" fill="#fffbd0" filter="url(#bl06)"/><path d="M306.0,248.0 L318.0,266.0 L344.5,247.3 M306.0,248.0 L321.0,235.0 M327.0,227.0 L344.5,247.3" stroke="#a02a3c" stroke-width="0.4" fill="none" opacity="0.35"/><circle cx="323.0" cy="240.7" r="2.8" stroke="#a02a3c" stroke-width="0.5" fill="none" stroke-dasharray="1,0.8" opacity="0.75"/><text x="348.5" y="271.5" font-size="6.8" fill="#fff" text-anchor="end">15 s</text></g>
<g clip-path="url(#cs2)"><rect x="351.3" y="225.0" width="49.3" height="48.5" fill="#5e1cc2"/><ellipse cx="373.3" cy="249.0" rx="20" ry="16" fill="#8a2cc4" filter="url(#bl5)"/><ellipse cx="375.3" cy="251.0" rx="15" ry="12" fill="#a038c4" filter="url(#bl3)" opacity="0.9"/><circle cx="362.3" cy="245.0" r="3" fill="#5a1cb8" filter="url(#bl2)"/><circle cx="376.3" cy="253.0" r="7" fill="#d8387a" filter="url(#bl2)"/><circle cx="376.3" cy="253.0" r="4.2" fill="#f8a030" filter="url(#bl1)"/><circle cx="376.3" cy="253.0" r="2.4" fill="#fff4a0" filter="url(#bl06)"/><path d="M353.3,237.0 L371.3,261.0 L399.3,243.0" stroke="#d0a0e8" stroke-width="0.45" fill="none" stroke-dasharray="0.8,0.8" opacity="0.8"/><path d="M354.3,233.0 Q359.3,228.0 364.3,233.0" stroke="#d0a0e8" stroke-width="0.45" fill="none" stroke-dasharray="0.8,0.8" opacity="0.8"/><circle cx="376.3" cy="234.0" r="3.5" stroke="#d8b0f0" stroke-width="0.5" fill="none" stroke-dasharray="0.8,0.8"/><text x="398.8" y="271.5" font-size="6.8" fill="#fff" text-anchor="end">45 s</text></g>
<g clip-path="url(#cs3)"><rect x="401.6" y="225.0" width="49.3" height="48.5" fill="#5c1ec2"/><ellipse cx="426.6" cy="251.0" rx="20" ry="17" fill="#8a2cc4" filter="url(#bl5)"/><ellipse cx="427.6" cy="253.0" rx="12" ry="10" fill="#a834b8" filter="url(#bl3)"/><circle cx="426.70000000000005" cy="250.4" r="6.5" fill="#d83a6e" filter="url(#bl2)"/><circle cx="426.70000000000005" cy="250.4" r="4.3" fill="#fcc850" filter="url(#bl1)"/><circle cx="426.70000000000005" cy="250.4" r="3" fill="#f6fae8"/><path d="M403.1,231.0 L422.1,258.0 L448.6,240.0" stroke="#d8b0f0" stroke-width="0.5" fill="none" opacity="0.8"/><circle cx="426.70000000000005" cy="231.3" r="3.5" stroke="#d8b0f0" stroke-width="0.5" fill="none" stroke-dasharray="0.8,0.8"/><text x="449.1" y="271.5" font-size="6.8" fill="#fff" text-anchor="end">75 s</text></g>
<defs><clipPath id="cl0"><rect x="251.0" y="279.3" width="19.2" height="40.5"/></clipPath><linearGradient id="lg0" gradientUnits="userSpaceOnUse" x1="0" y1="279.3" x2="0" y2="319.8"><stop offset="0.000" stop-color="#f6b034"/><stop offset="0.067" stop-color="#f8c844"/><stop offset="0.264" stop-color="#f9d048"/><stop offset="0.462" stop-color="#f7c03c"/><stop offset="0.536" stop-color="#f28032"/><stop offset="0.585" stop-color="#f06a34"/><stop offset="1.000" stop-color="#ee6038"/></linearGradient><clipPath id="cl1"><rect x="270.8" y="279.3" width="19.2" height="40.5"/></clipPath><linearGradient id="lg1" gradientUnits="userSpaceOnUse" x1="0" y1="279.3" x2="0" y2="319.8"><stop offset="0.000" stop-color="#f29430"/><stop offset="0.141" stop-color="#f6b438"/><stop offset="0.314" stop-color="#fad84c"/><stop offset="0.511" stop-color="#fad448"/><stop offset="0.659" stop-color="#f6a834"/><stop offset="0.807" stop-color="#f28030"/><stop offset="1.000" stop-color="#ee6438"/></linearGradient><clipPath id="cl2"><rect x="291.0" y="279.3" width="19.2" height="40.5"/></clipPath><linearGradient id="lg2" gradientUnits="userSpaceOnUse" x1="0" y1="279.3" x2="0" y2="319.8"><stop offset="0.000" stop-color="#f39030"/><stop offset="0.215" stop-color="#f6a834"/><stop offset="0.363" stop-color="#fad040"/><stop offset="0.437" stop-color="#fce050"/><stop offset="0.511" stop-color="#f8b838"/><stop offset="0.560" stop-color="#f05a30"/><stop offset="1.000" stop-color="#ec4c3c"/></linearGradient><clipPath id="cl3"><rect x="311.0" y="279.3" width="19.2" height="40.5"/></clipPath><linearGradient id="lg3" gradientUnits="userSpaceOnUse" x1="0" y1="279.3" x2="0" y2="319.8"><stop offset="0.000" stop-color="#f28030"/><stop offset="0.215" stop-color="#f6a030"/><stop offset="0.363" stop-color="#fbc840"/><stop offset="0.511" stop-color="#fbd848"/><stop offset="0.610" stop-color="#f59030"/><stop offset="0.659" stop-color="#ee5030"/><stop offset="1.000" stop-color="#e84444"/></linearGradient><clipPath id="cl4"><rect x="331.0" y="279.3" width="19.2" height="40.5"/></clipPath><linearGradient id="lg4" gradientUnits="userSpaceOnUse" x1="0" y1="279.3" x2="0" y2="319.8"><stop offset="0.000" stop-color="#f06030"/><stop offset="0.215" stop-color="#f49030"/><stop offset="0.388" stop-color="#fbd040"/><stop offset="0.560" stop-color="#fbd848"/><stop offset="0.684" stop-color="#f59030"/><stop offset="0.758" stop-color="#ee4a3a"/><stop offset="1.000" stop-color="#e04070"/></linearGradient><clipPath id="cl5"><rect x="351.1" y="279.3" width="19.2" height="40.5"/></clipPath><linearGradient id="lg5" gradientUnits="userSpaceOnUse" x1="0" y1="279.3" x2="0" y2="319.8"><stop offset="0.000" stop-color="#ee4a3a"/><stop offset="0.141" stop-color="#f27030"/><stop offset="0.314" stop-color="#f8b038"/><stop offset="0.388" stop-color="#fde050"/><stop offset="0.635" stop-color="#fde050"/><stop offset="0.684" stop-color="#f8b038"/><stop offset="0.758" stop-color="#f06030"/><stop offset="0.857" stop-color="#e84848"/><stop offset="1.000" stop-color="#d84080"/></linearGradient><clipPath id="cl6"><rect x="371.2" y="279.3" width="19.2" height="40.5"/></clipPath><linearGradient id="lg6" gradientUnits="userSpaceOnUse" x1="0" y1="279.3" x2="0" y2="319.8"><stop offset="0.000" stop-color="#ec463e"/><stop offset="0.141" stop-color="#f27030"/><stop offset="0.314" stop-color="#f8b038"/><stop offset="0.388" stop-color="#fde050"/><stop offset="0.635" stop-color="#fde050"/><stop offset="0.684" stop-color="#f8b038"/><stop offset="0.758" stop-color="#f06030"/><stop offset="0.857" stop-color="#e84848"/><stop offset="1.000" stop-color="#d03c90"/></linearGradient><clipPath id="cl7"><rect x="391.2" y="279.3" width="19.2" height="40.5"/></clipPath><linearGradient id="lg7" gradientUnits="userSpaceOnUse" x1="0" y1="279.3" x2="0" y2="319.8"><stop offset="0.000" stop-color="#c838a0"/><stop offset="0.067" stop-color="#e04860"/><stop offset="0.165" stop-color="#f06030"/><stop offset="0.264" stop-color="#f8a030"/><stop offset="0.338" stop-color="#fcd848"/><stop offset="0.709" stop-color="#fcd848"/><stop offset="0.758" stop-color="#f8a030"/><stop offset="0.807" stop-color="#ee5038"/><stop offset="0.881" stop-color="#c838a0"/><stop offset="1.000" stop-color="#b030bc"/></linearGradient><clipPath id="cl8"><rect x="411.1" y="279.3" width="19.2" height="40.5"/></clipPath><linearGradient id="lg8" gradientUnits="userSpaceOnUse" x1="0" y1="279.3" x2="0" y2="319.8"><stop offset="0.000" stop-color="#c038a8"/><stop offset="0.067" stop-color="#e04860"/><stop offset="0.141" stop-color="#f07030"/><stop offset="0.215" stop-color="#fcc040"/><stop offset="0.635" stop-color="#fcd040"/><stop offset="0.684" stop-color="#f8a838"/><stop offset="0.733" stop-color="#ee5038"/><stop offset="0.807" stop-color="#c838a0"/><stop offset="1.000" stop-color="#9a2cc8"/></linearGradient><clipPath id="cl9"><rect x="431.1" y="279.3" width="19.2" height="40.5"/></clipPath><linearGradient id="lg9" gradientUnits="userSpaceOnUse" x1="0" y1="279.3" x2="0" y2="319.8"><stop offset="0.000" stop-color="#b834b0"/><stop offset="0.091" stop-color="#e04860"/><stop offset="0.190" stop-color="#f07030"/><stop offset="0.264" stop-color="#fcc840"/><stop offset="0.684" stop-color="#fcd040"/><stop offset="0.733" stop-color="#f8a838"/><stop offset="0.783" stop-color="#ee5040"/><stop offset="0.857" stop-color="#c838a0"/><stop offset="1.000" stop-color="#9a2cc8"/></linearGradient><filter id="bl06" x="-50%" y="-50%" width="200%" height="200%"><feGaussianBlur stdDeviation="0.6"/></filter><filter id="bl12" x="-50%" y="-20%" width="200%" height="140%"><feGaussianBlur stdDeviation="1.1"/></filter></defs>
<g clip-path="url(#cl0)"><rect x="251.0" y="279.3" width="19.2" height="40.5" fill="#ee4a50"/><rect x="253.40" y="277.3" width="14.40" height="44.5" fill="url(#lg0)" filter="url(#bl12)"/><path d="M254.40,303.3V319.8M266.80,303.3V319.8" stroke="#ffffff" stroke-opacity="0.25" stroke-width="0.4"/><text x="269.0" y="318.2" font-size="6.8" fill="#fff" text-anchor="end">0 s</text></g>
<g clip-path="url(#cl1)"><rect x="270.8" y="279.3" width="19.2" height="40.5" fill="#e84462"/><rect x="273.60" y="277.3" width="13.60" height="44.5" fill="url(#lg1)" filter="url(#bl12)"/><path d="M274.60,303.3V319.8M286.20,303.3V319.8" stroke="#ffffff" stroke-opacity="0.25" stroke-width="0.4"/><text x="288.8" y="318.2" font-size="6.8" fill="#fff" text-anchor="end">10 s</text></g>
<g clip-path="url(#cl2)"><rect x="291.0" y="279.3" width="19.2" height="40.5" fill="#e8406a"/><rect x="293.60" y="277.3" width="14.00" height="44.5" fill="url(#lg2)" filter="url(#bl12)"/><path d="M294.60,303.3V319.8M306.60,303.3V319.8" stroke="#ffffff" stroke-opacity="0.25" stroke-width="0.4"/><text x="309.0" y="318.2" font-size="6.8" fill="#fff" text-anchor="end">20 s</text></g>
<g clip-path="url(#cl3)"><rect x="311.0" y="279.3" width="19.2" height="40.5" fill="#e43a72"/><rect x="313.20" y="277.3" width="14.80" height="44.5" fill="url(#lg3)" filter="url(#bl12)"/><rect x="313.20" y="296.30" width="14.80" height="6.40" rx="2" fill="#eef8f2" filter="url(#bl06)"/><path d="M314.20,303.3V319.8M327.00,303.3V319.8" stroke="#ffffff" stroke-opacity="0.25" stroke-width="0.4"/><text x="329.0" y="318.2" font-size="6.8" fill="#fff" text-anchor="end">30 s</text></g>
<g clip-path="url(#cl4)"><rect x="331.0" y="279.3" width="19.2" height="40.5" fill="#de3a84"/><rect x="333.00" y="277.3" width="15.20" height="44.5" fill="url(#lg4)" filter="url(#bl12)"/><rect x="332.80" y="297.50" width="15.60" height="7.50" rx="2" fill="#eef8f2" filter="url(#bl06)"/><path d="M334.00,303.3V319.8M347.20,303.3V319.8" stroke="#ffffff" stroke-opacity="0.25" stroke-width="0.4"/><text x="349.0" y="318.2" font-size="6.8" fill="#fff" text-anchor="end">60 s</text></g>
<g clip-path="url(#cl5)"><rect x="351.1" y="279.3" width="19.2" height="40.5" fill="#d43c9c"/><rect x="352.90" y="277.3" width="15.60" height="44.5" fill="url(#lg5)" filter="url(#bl12)"/><rect x="352.70" y="296.30" width="16.00" height="8.10" rx="2" fill="#eef8f2" filter="url(#bl06)"/><path d="M353.90,303.3V319.8M367.50,303.3V319.8" stroke="#ffffff" stroke-opacity="0.25" stroke-width="0.4"/><text x="369.1" y="318.2" font-size="6.8" fill="#fff" text-anchor="end">90 s</text></g>
<g clip-path="url(#cl6)"><rect x="371.2" y="279.3" width="19.2" height="40.5" fill="#cc38a8"/><rect x="373.00" y="277.3" width="15.60" height="44.5" fill="url(#lg6)" filter="url(#bl12)"/><rect x="372.80" y="296.30" width="16.00" height="8.10" rx="2" fill="#eef8f2" filter="url(#bl06)"/><path d="M374.00,303.3V319.8M387.60,303.3V319.8" stroke="#ffffff" stroke-opacity="0.25" stroke-width="0.4"/><text x="389.2" y="318.2" font-size="6.8" fill="#fff" text-anchor="end">120 s</text></g>
<g clip-path="url(#cl7)"><rect x="391.2" y="279.3" width="19.2" height="40.5" fill="#b030bc"/><rect x="392.60" y="277.3" width="16.40" height="44.5" fill="url(#lg7)" filter="url(#bl12)"/><rect x="392.40" y="294.40" width="16.80" height="14.10" rx="2" fill="#eef8f2" filter="url(#bl06)"/><path d="M393.60,303.3V319.8M408.00,303.3V319.8" stroke="#ffffff" stroke-opacity="0.25" stroke-width="0.4"/><text x="409.2" y="318.2" font-size="6.8" fill="#fff" text-anchor="end">150 s</text></g>
<g clip-path="url(#cl8)"><rect x="411.1" y="279.3" width="19.2" height="40.5" fill="#9a2cc8"/><rect x="412.30" y="277.3" width="16.80" height="44.5" fill="url(#lg8)" filter="url(#bl12)"/><rect x="412.10" y="290.10" width="17.20" height="14.70" rx="2" fill="#eef8f2" filter="url(#bl06)"/><path d="M413.30,303.3V319.8M428.10,303.3V319.8" stroke="#ffffff" stroke-opacity="0.25" stroke-width="0.4"/><text x="429.1" y="318.2" font-size="6.8" fill="#fff" text-anchor="end">180 s</text></g>
<g clip-path="url(#cl9)"><rect x="431.1" y="279.3" width="19.2" height="40.5" fill="#9a2cc8"/><rect x="432.50" y="277.3" width="16.40" height="44.5" fill="url(#lg9)" filter="url(#bl12)"/><rect x="432.60" y="292.60" width="16.20" height="13.40" rx="2" fill="#eef8f2" filter="url(#bl06)"/><path d="M433.50,303.3V319.8M447.90,303.3V319.8" stroke="#ffffff" stroke-opacity="0.25" stroke-width="0.4"/><text x="449.1" y="318.2" font-size="6.8" fill="#fff" text-anchor="end">210 s</text></g>
<rect x="489.00" y="189.00" width="188.60" height="158.30" fill="none" stroke="#2a2a2a" stroke-width="1"/>
<path d="M500.40,347.30V350.80M518.80,347.30V350.80M537.20,347.30V350.80M555.60,347.30V350.80M574.00,347.30V350.80M592.40,347.30V350.80M610.80,347.30V350.80M629.20,347.30V350.80M647.60,347.30V350.80M666.00,347.30V350.80M489.00,328.90H485.50M489.00,291.50H485.50M489.00,254.10H485.50M489.00,216.70H485.50M489.00,310.20H487.00M489.00,272.80H487.00M489.00,235.40H487.00M489.00,198.00H487.00" stroke="#2a2a2a" stroke-width="1" fill="none"/>
<text x="500.40" y="361.60" font-size="10.4" text-anchor="middle" fill="#1a1a1a" >1</text>
<text x="518.80" y="361.60" font-size="10.4" text-anchor="middle" fill="#1a1a1a" >2</text>
<text x="537.20" y="361.60" font-size="10.4" text-anchor="middle" fill="#1a1a1a" >3</text>
<text x="555.60" y="361.60" font-size="10.4" text-anchor="middle" fill="#1a1a1a" >4</text>
<text x="574.00" y="361.60" font-size="10.4" text-anchor="middle" fill="#1a1a1a" >5</text>
<text x="592.40" y="361.60" font-size="10.4" text-anchor="middle" fill="#1a1a1a" >6</text>
<text x="610.80" y="361.60" font-size="10.4" text-anchor="middle" fill="#1a1a1a" >7</text>
<text x="629.20" y="361.60" font-size="10.4" text-anchor="middle" fill="#1a1a1a" >8</text>
<text x="647.60" y="361.60" font-size="10.4" text-anchor="middle" fill="#1a1a1a" >9</text>
<text x="666.00" y="361.60" font-size="10.4" text-anchor="middle" fill="#1a1a1a" >10</text>
<text x="483.20" y="332.60" font-size="10.4" text-anchor="end" fill="#1a1a1a" >40</text>
<text x="483.20" y="295.20" font-size="10.4" text-anchor="end" fill="#1a1a1a" >80</text>
<text x="483.20" y="257.80" font-size="10.4" text-anchor="end" fill="#1a1a1a" >120</text>
<text x="483.20" y="220.40" font-size="10.4" text-anchor="end" fill="#1a1a1a" >160</text>
<text x="583.20" y="371.40" font-size="10.6" text-anchor="middle" fill="#1a1a1a" >Cycles</text>
<text x="0" y="0" font-size="10.8" text-anchor="middle" fill="#1a1a1a" transform="translate(464.40,267.50) rotate(-90)">Temperature (°C)</text>
<text x="465.00" y="202.50" font-size="22" text-anchor="start" fill="#000" >f</text>
<line x1="489.5" y1="218.76" x2="677" y2="218.76" stroke="#c04868" stroke-width="0.75" stroke-dasharray="3,1.5,1,1.5"/>
<line x1="489.5" y1="305.99" x2="677" y2="305.99" stroke="#5aa8e0" stroke-width="0.75" stroke-dasharray="3,1.5,1,1.5"/>
<text x="490.80" y="216.30" font-size="7.6" text-anchor="start" fill="#a02848" >157.8 °C</text>
<text x="490.30" y="303.40" font-size="7.4" text-anchor="start" fill="#3a7cc8" >64.5 °C</text>
<path d="M491.20,342.46 L500.40,305.99 L509.60,342.46 L518.80,305.99 L528.00,342.46 L537.20,305.99 L546.40,342.46 L555.60,305.99 L564.80,342.46 L574.00,305.99 L583.20,342.46 L592.40,305.99 L601.60,342.46 L610.80,305.99 L620.00,342.46 L629.20,305.99 L638.40,342.46 L647.60,305.99 L656.80,342.46 L666.00,305.99 L675.20,342.46" stroke="#58b4e4" stroke-width="0.9" fill="none"/>
<path d="M491.20,342.46L500.40,218.76M509.60,342.46L518.80,218.76M528.00,342.46L537.20,218.76M546.40,342.46L555.60,218.76M564.80,342.46L574.00,218.76M583.20,342.46L592.40,218.76M601.60,342.46L610.80,218.76M620.00,342.46L629.20,218.76M638.40,342.46L647.60,218.76M656.80,342.46L666.00,218.76" stroke="#e0508e" stroke-width="0.9" fill="none"/>
<path d="M500.40,218.76L509.60,342.46M518.80,218.76L528.00,342.46M537.20,218.76L546.40,342.46M555.60,218.76L564.80,342.46M574.00,218.76L583.20,342.46M592.40,218.76L601.60,342.46M610.80,218.76L620.00,342.46M629.20,218.76L638.40,342.46M647.60,218.76L656.80,342.46M666.00,218.76L675.20,342.46" stroke="#c02c62" stroke-width="0.9" fill="none"/>
<line x1="557.8" y1="196.2" x2="575.5" y2="196.2" stroke="#e0709a" stroke-width="1"/>
<line x1="557.8" y1="208.3" x2="575.5" y2="208.3" stroke="#70c0ea" stroke-width="1"/>
<text x="0" y="0" font-size="7.9" text-anchor="start" fill="#1a1a1a" stroke="#1a1a1a" stroke-width="0.14" transform="translate(577.30,199.10) scale(0.96,1)"><tspan font-weight="bold">4</tspan>(OTf)<tspan font-size="70%" dy="1.8">12</tspan><tspan dy="-1.8">-730 nm (0.6 W/cm</tspan><tspan font-size="70%" dy="-3">2</tspan><tspan dy="3">)</tspan></text>
<text x="0" y="0" font-size="7.9" text-anchor="start" fill="#1a1a1a" stroke="#1a1a1a" stroke-width="0.14" transform="translate(577.30,211.20) scale(0.96,1)"><tspan font-weight="bold">4</tspan>(OTf)<tspan font-size="70%" dy="1.8">12</tspan><tspan dy="-1.8">-730 nm (1.5 W/cm</tspan><tspan font-size="70%" dy="-3">2</tspan><tspan dy="3">)</tspan></text></svg></body></html>
